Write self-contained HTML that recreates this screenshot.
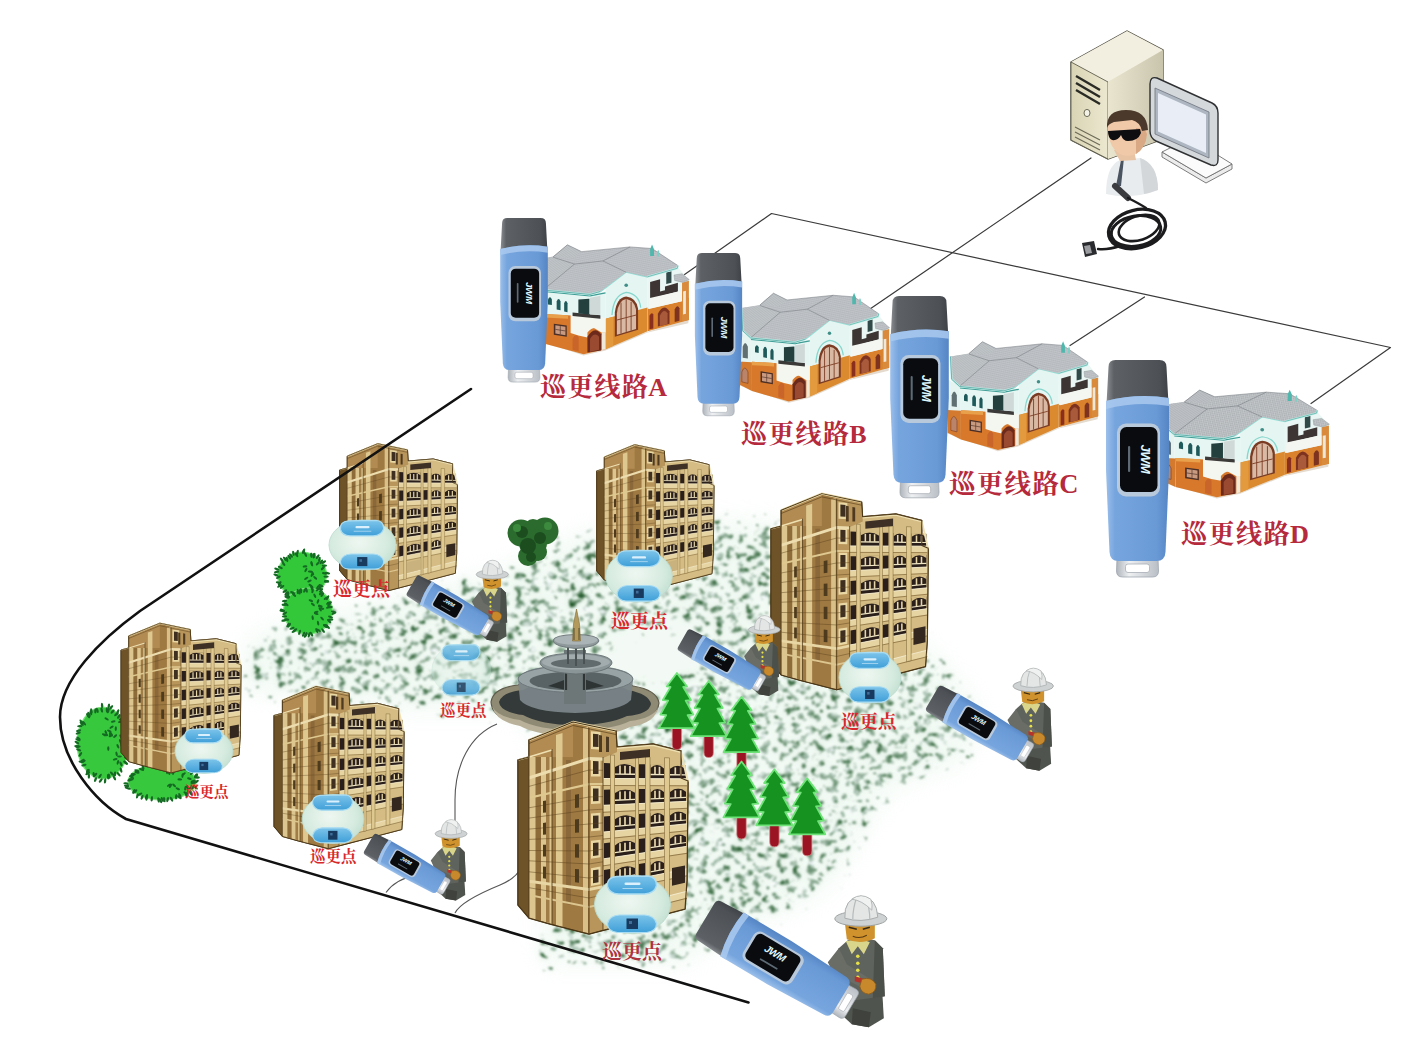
<!DOCTYPE html>
<html lang="zh"><head><meta charset="utf-8"><title>巡更线路</title>
<style>
html,body{margin:0;padding:0;background:#fff;}
body{width:1426px;height:1056px;overflow:hidden;font-family:"Liberation Serif","Noto Serif CJK SC",serif;}
svg{display:block}
.rl{letter-spacing:1.3px;font-family:"Liberation Serif","Noto Serif CJK SC",serif;font-weight:700;fill:#b52a3c;}
.pl{font-family:"Liberation Serif","Noto Serif CJK SC",serif;font-weight:700;fill:#d8282c;}
</style></head><body>
<svg width="1426" height="1056" viewBox="0 0 1426 1056">
<defs>
<linearGradient id="capg" x1="0" x2="1" y1="0" y2="0">
 <stop offset="0" stop-color="#8a8e92"/><stop offset="0.12" stop-color="#5d6165"/><stop offset="0.85" stop-color="#4d5155"/><stop offset="1" stop-color="#3f4347"/>
</linearGradient>
<linearGradient id="bodyg" x1="0" x2="1" y1="0" y2="0">
 <stop offset="0" stop-color="#9cc0ea"/><stop offset="0.14" stop-color="#76a5de"/><stop offset="0.8" stop-color="#6a9ad6"/><stop offset="1" stop-color="#5585c4"/>
</linearGradient>
<linearGradient id="clipg" x1="0" x2="1" y1="0" y2="0">
 <stop offset="0" stop-color="#aeb4bb"/><stop offset="0.3" stop-color="#eef0f2"/><stop offset="1" stop-color="#b9bfc6"/>
</linearGradient>
<g id="dev">
 <path d="M-20,186 L20,186 L21,211 Q21,217 15,217 L-15,217 Q-21,217 -21,211 Z" fill="url(#clipg)" stroke="#9fa6ae" stroke-width="0.8"/>
 <rect x="-12" y="204" width="24" height="8.5" rx="2.5" fill="#ffffff" stroke="#a8aeb5" stroke-width="0.8"/>
 <path d="M-29,7 Q-29,0 -22,0 L22,0 Q29,0 29,7 L31,44 L-31,44 Z" fill="url(#capg)"/>
 <path d="M-31.5,41 Q0,33 31.5,38 L31.5,110 L28,192 Q27.5,201 19,201 L-19,201 Q-27.5,201 -28,192 L-31.5,110 Z" fill="url(#bodyg)"/>
 <path d="M-31.5,41 Q0,33 31.5,38 L31.5,46 Q0,41 -31.5,49 Z" fill="#a9c9ef" opacity="0.85"/>
 <rect x="-20.5" y="63.5" width="43" height="73" rx="9" fill="#b9c9dc"/>
 <rect x="-17.5" y="67" width="37.5" height="65" rx="6.5" fill="#090b0e"/>
 <text transform="translate(3,99) rotate(90)" text-anchor="middle" font-family="'Liberation Sans',sans-serif" font-weight="700" font-style="italic" font-size="13" fill="#dff6ff" letter-spacing="-0.5">JWM</text>
 <rect x="-9.5" y="86" width="2.2" height="26" rx="1" fill="#5d6a75"/>
</g>

<pattern id="tile" width="14" height="14" patternUnits="userSpaceOnUse" patternTransform="rotate(-12) scale(2.2)">
 <rect width="14" height="14" fill="#c6cacd"/>
 <path d="M0,3 H14 M0,10 H14" stroke="#8f949a" stroke-width="2.4"/>
 <path d="M4,0 V14 M11,0 V14" stroke="#d3d6d9" stroke-width="1.6"/>
</pattern>
<pattern id="tile2" width="14" height="14" patternUnits="userSpaceOnUse" patternTransform="rotate(38) scale(2.2)">
 <rect width="14" height="14" fill="#cdd1d4"/>
 <path d="M0,3 H14 M0,10 H14" stroke="#969ba1" stroke-width="2.4"/>
</pattern>
<g id="villa" stroke-linejoin="round">
 <!-- soft ground shadow -->
 <polygon points="60,840 470,985 640,945 965,800 1280,725 1285,690 640,900 470,940 60,800" fill="#d9cbb8" opacity="0.7"/>
 <!-- right wing walls -->
 <polygon points="965,352 1200,275 1285,380 1285,700 965,790" fill="#e9f6f3"/>
 <polygon points="965,612 1230,548 1285,520 1285,700 965,790" fill="#d9812c"/>
 <polygon points="1232,400 1285,385 1285,700 1232,712" fill="#d98a3a"/>
 <polygon points="1240,470 1262,465 1262,650 1240,655" fill="#efe7d8"/>
 <polygon points="985,395 1062,372 1062,470 1100,460 1100,430 1200,400 1200,470 985,530" fill="#3c3533"/>
 <polygon points="1110,318 1150,308 1150,400 1110,410" fill="#2f4a49"/>
 <polygon points="975,525 1230,465 1230,548 975,612" fill="#f3f6f1"/>
 <path d="M980,775 V665 Q995,630 1010,655 V768 Z" fill="#8a2f1e"/>
 <path d="M1045,752 V650 Q1090,560 1135,630 V730 Z" fill="#7d3320"/>
 <path d="M1060,748 V665 Q1090,600 1120,645 V734 Z" fill="#a85a3a"/>
 <path d="M1175,715 V615 Q1195,570 1212,605 V706 Z" fill="#7d3320"/>
 <!-- small lean-to roof right -->
 <polygon points="1170,338 1232,328 1288,375 1240,398 1175,382" fill="url(#tile)" stroke="#7f8b8c" stroke-width="3"/>
 <!-- gable wall -->
 <polygon points="640,440 800,312 965,352 965,790 640,935" fill="#e4f5f2"/>
 <polygon points="640,690 965,600 965,790 640,935" fill="#dc8a30"/>
 <polygon points="640,690 700,674 700,908 640,935" fill="#e39a3e"/>
 <path d="M600,472 L800,314 L968,354" fill="none" stroke="#8fe0d6" stroke-width="12"/>
 <path d="M690,660 Q700,500 800,478 Q900,490 912,600" fill="none" stroke="#86d6cc" stroke-width="10"/>
 <path d="M712,835 V640 Q725,520 800,510 Q880,520 892,610 V778 Z" fill="#7a3b22"/>
 <path d="M728,818 V645 Q740,540 800,530 Q865,540 876,615 V772 Z" fill="#d9b9a4"/>
 <path d="M760,808 V560 M800,796 V532 M838,785 V555 M728,700 L876,660" stroke="#7a3b22" stroke-width="7" fill="none"/>
 <circle cx="800" cy="420" r="14" fill="#3f8f88"/>
 <!-- left-front walls -->
 <polygon points="160,457 520,492 640,470 640,935 470,975 170,890" fill="#e6f6f3"/>
 <polygon points="170,652 380,664 640,692 640,935 470,975 170,890" fill="#d8782a"/>
 <polygon points="170,652 350,662 350,690 170,680" fill="#e9a04a"/>
 <polygon points="370,655 640,684 640,800 610,800 Q560,730 500,800 L500,840 430,825 370,805" fill="#f4f6f0"/>
 <path d="M370,655 L640,684 L640,800 L612,800 Q560,728 500,800 L500,840 L430,825 L370,805 Z" fill="#f4f6f0"/>
 <path d="M440,690 L470,730 L500,695" fill="#f4f6f0"/>
 <polygon points="385,640 600,662 600,690 385,668" fill="#3b3a38"/>
 <path d="M500,962 V835 Q555,740 606,815 V945 Z" fill="#6b2a1c"/>
 <path d="M520,955 V850 Q555,790 590,835 V940 Z" fill="#9a4a30"/>
 <polygon points="612,800 640,800 640,935 612,942" fill="#f0e8d8"/>
 <path d="M385,940 V850 Q410,800 432,840 V952 Z" fill="#c9652a"/>
 <polygon points="240,730 340,745 340,835 240,818" fill="#4b2e25"/>
 <polygon points="252,742 330,754 330,822 252,808" fill="#c99a80"/>
 <path d="M290,748 V815 M252,775 L330,788" stroke="#4b2e25" stroke-width="5"/>
 <path d="M195,575 V535 Q210,500 225,535 V580 Z" fill="#1f5a5a"/>
 <path d="M262,615 V550 Q277,510 292,550 V622 Z" fill="#1f5a5a"/>
 <path d="M320,632 V565 Q333,528 346,565 V638 Z" fill="#1f5a5a"/>
 <polygon points="430,535 515,528 515,655 430,648" fill="#23403f"/>
 <polygon points="520,520 600,505 600,660 520,655" fill="#cfd9d8"/>
 <path d="M160,470 L520,505 L640,482" fill="none" stroke="#3f9d95" stroke-width="10"/>
 <!-- left turret -->
 <polygon points="62,400 160,457 170,890 62,835" fill="#e6f4f1"/>
 <polygon points="62,650 170,656 170,890 62,835" fill="#d47a2e"/>
 <path d="M95,620 V530 Q115,470 137,530 V625 Z" fill="#5f6f72"/>
 <path d="M88,815 V735 Q112,670 138,735 V828 Z" fill="#b9846a"/>
 <path d="M88,815 V735 Q112,670 138,735 V828 Z" fill="none" stroke="#8a4a2a" stroke-width="6"/>
 <!-- roofs -->
 <polygon points="85,215 235,190 345,95 455,150 830,112 1000,125 1200,262 1195,284 965,352 800,316 600,470 520,494 160,459 95,400" fill="url(#tile)"/>
 <polygon points="85,215 235,195 400,250 160,459 95,400" fill="url(#tile2)" opacity="0.9"/>
 <polygon points="230,192 345,95 455,150 400,200" fill="url(#tile2)"/>
 <path d="M235,192 L345,95 L455,150 M235,195 L400,250 L160,457 M400,250 L620,225 L830,112 M620,225 L800,316 M455,150 L830,112 L1000,125 L1200,262" fill="none" stroke="#6f747a" stroke-width="4"/>
 <path d="M85,215 L95,400 L160,459 L520,494 L600,470" fill="none" stroke="#bff0ea" stroke-width="16"/><path d="M85,215 L95,400 L160,459 L520,494 L600,470" fill="none" stroke="#4f9f99" stroke-width="6"/>
 <path d="M965,352 L1195,284 L1200,262" fill="none" stroke="#bff0ea" stroke-width="16"/><path d="M965,352 L1195,284 L1200,262" fill="none" stroke="#5fb0a8" stroke-width="6"/>
 <!-- finial -->
 <path d="M985,185 V130 L1000,92 L1015,130 V185 Z" fill="#4fb7ac"/>
 <path d="M1040,190 V150 L1048,135 L1056,150 V190 Z" fill="#7fcfc6"/>
</g>
<g id="bld" transform="translate(-518,-721)" stroke-linejoin="round">
<polygon points="518.0,760.0 529.0,757.0 529.0,740.0 573.0,722.0 616.0,731.0 617.0,747.0 653.0,744.0 681.0,751.0 681.0,778.0 688.0,781.0 687.0,880.0 685.0,909.0 589.0,934.0 550.0,924.0 529.0,918.0 518.0,905.0" fill="#a8824a" stroke="#4a3616" stroke-width="1.4"/>
<polygon points="518.0,760.0 529.0,757.0 529.0,918.0 518.0,905.0" fill="#6e5228"/>
<polygon points="529.0,757.0 552.0,749.0 552.0,924.0 529.0,918.0" fill="#dcc58e"/>
<polygon points="535.5,755.0 541.0,753.0 541.0,921.0 535.5,919.5" fill="#8e6c3a"/>
<polygon points="546.0,751.0 549.5,750.0 549.5,923.0 546.0,922.0" fill="#a07c46"/>
<polygon points="552.0,731.0 573.0,722.0 589.0,727.0 589.0,934.0 552.0,924.0" fill="#9f7942"/>
<polygon points="529.0,740.0 573.0,722.0 573.0,757.0 529.0,757.0" fill="#b18b52"/>
<polygon points="556.0,735.0 562.5,733.0 562.5,927.0 556.0,925.5" fill="#dfc890"/>
<polygon points="566.0,760.0 571.0,760.0 571.0,905.0 566.0,904.0" fill="#8a683a"/>
<polygon points="583.0,728.0 588.0,727.0 588.0,933.0 583.0,932.0" fill="#d8c088"/>
<polygon points="573.0,722.0 616.0,731.0 617.0,752.0 606.0,757.0 606.0,929.1 589.0,934.0 589.0,727.0" fill="#b8955a"/>
<polygon points="591.0,758.6 600.5,759.0 600.5,776.6 591.0,776.5" fill="#ead8a4"/>
<polygon points="593.0,761.1 598.5,761.3 598.5,774.1 593.0,774.0" fill="#3e2f20"/>
<polygon points="591.0,786.0 600.5,785.9 600.5,803.5 591.0,803.9" fill="#ead8a4"/>
<polygon points="593.0,788.4 598.5,788.4 598.5,801.1 593.0,801.3" fill="#3e2f20"/>
<polygon points="591.0,813.4 600.5,812.8 600.5,830.4 591.0,831.3" fill="#ead8a4"/>
<polygon points="593.0,815.7 598.5,815.4 598.5,828.1 593.0,828.6" fill="#3e2f20"/>
<polygon points="591.0,840.8 600.5,839.7 600.5,857.3 591.0,858.7" fill="#ead8a4"/>
<polygon points="593.0,843.0 598.5,842.4 598.5,855.2 593.0,855.9" fill="#3e2f20"/>
<polygon points="591.0,868.2 600.5,866.6 600.5,884.2 591.0,886.1" fill="#ead8a4"/>
<polygon points="593.0,870.3 598.5,869.4 598.5,882.2 593.0,883.2" fill="#3e2f20"/>
<polygon points="591.0,731.2 600.5,732.1 600.5,749.7 591.0,749.1" fill="#ead8a4"/>
<polygon points="593.0,733.8 598.5,734.3 598.5,747.1 593.0,746.8" fill="#3e2f20"/>
<polygon points="603.0,758.0 617.0,752.0 617.0,747.0 653.0,744.0 681.0,751.0 681.0,778.0 688.0,781.0 687.0,880.0 685.0,909.0 603.0,930.0" fill="#d4bc84"/>
<polygon points="604.0,763.0 610.0,763.2 610.0,778.6 604.0,778.5" fill="#2a1f1a"/>
<polygon points="615.0,763.4 635.0,764.0 635.0,778.6 615.0,778.6" fill="#2a1f1a"/>
<line x1="620.0" y1="765.5" x2="620.0" y2="773.9" stroke="#e6d6a8" stroke-width="1.7"/>
<line x1="625.0" y1="765.7" x2="625.0" y2="774.0" stroke="#e6d6a8" stroke-width="1.7"/>
<line x1="630.0" y1="765.9" x2="630.0" y2="774.0" stroke="#e6d6a8" stroke-width="1.7"/>
<polygon points="615.0,773.4 635.0,773.6 635.0,775.0 615.0,774.8" fill="#f0e6c4"/>
<path d="M615.0,766.9 Q625.0,760.7 635.0,767.5 L635.0,763.4 L615.0,762.8 Z" fill="#d4bc84"/>
<polygon points="639.0,764.2 645.0,764.3 645.0,778.7 639.0,778.7" fill="#2a1f1a"/>
<polygon points="650.5,764.5 664.0,765.0 664.0,778.7 650.5,778.7" fill="#2a1f1a"/>
<line x1="655.0" y1="766.7" x2="655.0" y2="774.3" stroke="#e6d6a8" stroke-width="1.7"/>
<line x1="659.5" y1="766.8" x2="659.5" y2="774.4" stroke="#e6d6a8" stroke-width="1.7"/>
<polygon points="650.5,773.8 664.0,774.0 664.0,775.3 650.5,775.2" fill="#f0e6c4"/>
<path d="M650.5,768.0 Q657.2,761.8 664.0,768.5 L664.0,764.4 L650.5,763.9 Z" fill="#d4bc84"/>
<polygon points="670.0,765.2 686.0,765.7 686.0,778.8 670.0,778.8" fill="#2a1f1a"/>
<line x1="675.3" y1="767.4" x2="675.3" y2="774.6" stroke="#e6d6a8" stroke-width="1.7"/>
<line x1="680.7" y1="767.5" x2="680.7" y2="774.7" stroke="#e6d6a8" stroke-width="1.7"/>
<polygon points="670.0,774.1 686.0,774.3 686.0,775.5 670.0,775.4" fill="#f0e6c4"/>
<path d="M670.0,768.7 Q678.0,762.4 686.0,769.2 L686.0,765.1 L670.0,764.6 Z" fill="#d4bc84"/>
<polygon points="604.0,789.7 610.0,789.6 610.0,805.0 604.0,805.3" fill="#2a1f1a"/>
<polygon points="615.0,789.5 635.0,789.2 635.0,803.8 615.0,804.8" fill="#2a1f1a"/>
<line x1="620.0" y1="791.4" x2="620.0" y2="799.8" stroke="#e6d6a8" stroke-width="1.7"/>
<line x1="625.0" y1="791.3" x2="625.0" y2="799.6" stroke="#e6d6a8" stroke-width="1.7"/>
<line x1="630.0" y1="791.3" x2="630.0" y2="799.4" stroke="#e6d6a8" stroke-width="1.7"/>
<polygon points="615.0,799.5 635.0,798.8 635.0,800.1 615.0,800.9" fill="#f0e6c4"/>
<path d="M615.0,793.0 Q625.0,786.3 635.0,792.7 L635.0,788.6 L615.0,788.9 Z" fill="#d4bc84"/>
<polygon points="639.0,789.1 645.0,789.0 645.0,803.3 639.0,803.6" fill="#2a1f1a"/>
<polygon points="650.5,788.9 664.0,788.6 664.0,802.4 650.5,803.1" fill="#2a1f1a"/>
<line x1="655.0" y1="790.8" x2="655.0" y2="798.5" stroke="#e6d6a8" stroke-width="1.7"/>
<line x1="659.5" y1="790.7" x2="659.5" y2="798.3" stroke="#e6d6a8" stroke-width="1.7"/>
<polygon points="650.5,798.2 664.0,797.7 664.0,799.0 650.5,799.5" fill="#f0e6c4"/>
<path d="M650.5,792.4 Q657.2,785.8 664.0,792.1 L664.0,788.0 L650.5,788.3 Z" fill="#d4bc84"/>
<polygon points="670.0,788.5 686.0,788.2 686.0,801.4 670.0,802.1" fill="#2a1f1a"/>
<line x1="675.3" y1="790.4" x2="675.3" y2="797.7" stroke="#e6d6a8" stroke-width="1.7"/>
<line x1="680.7" y1="790.3" x2="680.7" y2="797.5" stroke="#e6d6a8" stroke-width="1.7"/>
<polygon points="670.0,797.4 686.0,796.8 686.0,798.1 670.0,798.7" fill="#f0e6c4"/>
<path d="M670.0,792.0 Q678.0,785.4 686.0,791.7 L686.0,787.6 L670.0,787.9 Z" fill="#d4bc84"/>
<polygon points="604.0,816.5 610.0,816.0 610.0,831.4 604.0,832.0" fill="#2a1f1a"/>
<polygon points="615.0,815.7 635.0,814.3 635.0,828.9 615.0,830.9" fill="#2a1f1a"/>
<line x1="620.0" y1="817.4" x2="620.0" y2="825.7" stroke="#e6d6a8" stroke-width="1.7"/>
<line x1="625.0" y1="817.0" x2="625.0" y2="825.3" stroke="#e6d6a8" stroke-width="1.7"/>
<line x1="630.0" y1="816.7" x2="630.0" y2="824.8" stroke="#e6d6a8" stroke-width="1.7"/>
<polygon points="615.0,825.7 635.0,823.9 635.0,825.3 615.0,827.1" fill="#f0e6c4"/>
<path d="M615.0,819.2 Q625.0,812.0 635.0,817.8 L635.0,813.7 L615.0,815.1 Z" fill="#d4bc84"/>
<polygon points="639.0,814.0 645.0,813.6 645.0,828.0 639.0,828.5" fill="#2a1f1a"/>
<polygon points="650.5,813.2 664.0,812.3 664.0,826.1 650.5,827.4" fill="#2a1f1a"/>
<line x1="655.0" y1="814.9" x2="655.0" y2="822.6" stroke="#e6d6a8" stroke-width="1.7"/>
<line x1="659.5" y1="814.6" x2="659.5" y2="822.2" stroke="#e6d6a8" stroke-width="1.7"/>
<polygon points="650.5,822.5 664.0,821.3 664.0,822.6 650.5,823.9" fill="#f0e6c4"/>
<path d="M650.5,816.7 Q657.2,809.8 664.0,815.8 L664.0,811.7 L650.5,812.6 Z" fill="#d4bc84"/>
<polygon points="670.0,811.9 686.0,810.8 686.0,823.9 670.0,825.5" fill="#2a1f1a"/>
<line x1="675.3" y1="813.5" x2="675.3" y2="820.8" stroke="#e6d6a8" stroke-width="1.7"/>
<line x1="680.7" y1="813.1" x2="680.7" y2="820.3" stroke="#e6d6a8" stroke-width="1.7"/>
<polygon points="670.0,820.8 686.0,819.4 686.0,820.6 670.0,822.1" fill="#f0e6c4"/>
<path d="M670.0,815.4 Q678.0,808.3 686.0,814.3 L686.0,810.2 L670.0,811.3 Z" fill="#d4bc84"/>
<polygon points="604.0,843.2 610.0,842.5 610.0,857.8 604.0,858.7" fill="#2a1f1a"/>
<polygon points="615.0,841.9 635.0,839.5 635.0,854.1 615.0,857.1" fill="#2a1f1a"/>
<line x1="620.0" y1="843.3" x2="620.0" y2="851.6" stroke="#e6d6a8" stroke-width="1.7"/>
<line x1="625.0" y1="842.7" x2="625.0" y2="850.9" stroke="#e6d6a8" stroke-width="1.7"/>
<line x1="630.0" y1="842.1" x2="630.0" y2="850.2" stroke="#e6d6a8" stroke-width="1.7"/>
<polygon points="615.0,851.9 635.0,849.1 635.0,850.4 615.0,853.3" fill="#f0e6c4"/>
<path d="M615.0,845.4 Q625.0,837.7 635.0,843.0 L635.0,838.9 L615.0,841.3 Z" fill="#d4bc84"/>
<polygon points="639.0,839.0 645.0,838.3 645.0,852.6 639.0,853.5" fill="#2a1f1a"/>
<polygon points="650.5,837.6 664.0,836.0 664.0,849.7 650.5,851.8" fill="#2a1f1a"/>
<line x1="655.0" y1="839.0" x2="655.0" y2="846.7" stroke="#e6d6a8" stroke-width="1.7"/>
<line x1="659.5" y1="838.5" x2="659.5" y2="846.1" stroke="#e6d6a8" stroke-width="1.7"/>
<polygon points="650.5,846.9 664.0,845.0 664.0,846.3 650.5,848.2" fill="#f0e6c4"/>
<path d="M650.5,841.1 Q657.2,833.8 664.0,839.5 L664.0,835.4 L650.5,837.0 Z" fill="#d4bc84"/>
<polygon points="670.0,835.2 686.0,833.3 686.0,846.4 670.0,848.8" fill="#2a1f1a"/>
<line x1="675.3" y1="836.6" x2="675.3" y2="843.8" stroke="#e6d6a8" stroke-width="1.7"/>
<line x1="680.7" y1="836.0" x2="680.7" y2="843.1" stroke="#e6d6a8" stroke-width="1.7"/>
<polygon points="670.0,844.2 686.0,841.9 686.0,843.1 670.0,845.4" fill="#f0e6c4"/>
<path d="M670.0,838.7 Q678.0,831.3 686.0,836.8 L686.0,832.7 L670.0,834.6 Z" fill="#d4bc84"/>
<polygon points="604.0,869.9 610.0,868.9 610.0,884.3 604.0,885.5" fill="#2a1f1a"/>
<polygon points="615.0,868.0 635.0,864.6 635.0,879.2 615.0,883.3" fill="#2a1f1a"/>
<line x1="620.0" y1="869.2" x2="620.0" y2="877.5" stroke="#e6d6a8" stroke-width="1.7"/>
<line x1="625.0" y1="868.3" x2="625.0" y2="876.6" stroke="#e6d6a8" stroke-width="1.7"/>
<line x1="630.0" y1="867.5" x2="630.0" y2="875.6" stroke="#e6d6a8" stroke-width="1.7"/>
<polygon points="615.0,878.0 635.0,874.2 635.0,875.6 615.0,879.5" fill="#f0e6c4"/>
<path d="M615.0,871.5 Q625.0,863.3 635.0,868.1 L635.0,864.0 L615.0,867.4 Z" fill="#d4bc84"/>
<polygon points="639.0,863.9 645.0,862.9 645.0,877.2 639.0,878.4" fill="#2a1f1a"/>
<polygon points="650.5,861.9 664.0,859.6 664.0,873.4 650.5,876.1" fill="#2a1f1a"/>
<line x1="655.0" y1="863.2" x2="655.0" y2="870.8" stroke="#e6d6a8" stroke-width="1.7"/>
<line x1="659.5" y1="862.4" x2="659.5" y2="870.0" stroke="#e6d6a8" stroke-width="1.7"/>
<polygon points="650.5,871.2 664.0,868.7 664.0,870.0 650.5,872.6" fill="#f0e6c4"/>
<path d="M650.5,865.4 Q657.2,857.8 664.0,863.1 L664.0,859.0 L650.5,861.3 Z" fill="#d4bc84"/>
<polygon points="603.0,778.5 687.0,778.8 687.0,785.3 603.0,785.0" fill="#e6d4a2"/>
<line x1="603" y1="785.5" x2="687" y2="785.8" stroke="#7a5f30" stroke-width="0.7"/>
<line x1="603" y1="778.5" x2="687" y2="778.8" stroke="#f6eed4" stroke-width="0.9"/>
<polygon points="603.0,805.3 687.0,801.3 687.0,807.8 603.0,811.8" fill="#e6d4a2"/>
<line x1="603" y1="812.3" x2="687" y2="808.3" stroke="#7a5f30" stroke-width="0.7"/>
<line x1="603" y1="805.3" x2="687" y2="801.3" stroke="#f6eed4" stroke-width="0.9"/>
<polygon points="603.0,832.1 687.0,823.8 687.0,830.3 603.0,838.6" fill="#e6d4a2"/>
<line x1="603" y1="839.1" x2="687" y2="830.8" stroke="#7a5f30" stroke-width="0.7"/>
<line x1="603" y1="832.1" x2="687" y2="823.8" stroke="#f6eed4" stroke-width="0.9"/>
<polygon points="603.0,858.9 687.0,846.3 687.0,852.8 603.0,865.4" fill="#e6d4a2"/>
<line x1="603" y1="865.9" x2="687" y2="853.3" stroke="#7a5f30" stroke-width="0.7"/>
<line x1="603" y1="858.9" x2="687" y2="846.3" stroke="#f6eed4" stroke-width="0.9"/>
<polygon points="603.0,885.7 687.0,868.8 687.0,875.3 603.0,892.2" fill="#e6d4a2"/>
<line x1="603" y1="892.7" x2="687" y2="875.8" stroke="#7a5f30" stroke-width="0.7"/>
<line x1="603" y1="885.7" x2="687" y2="868.8" stroke="#f6eed4" stroke-width="0.9"/>
<polygon points="603.0,912.5 687.0,891.2 687.0,897.7 603.0,919.0" fill="#e6d4a2"/>
<line x1="603" y1="919.5" x2="687" y2="898.2" stroke="#7a5f30" stroke-width="0.7"/>
<line x1="603" y1="912.5" x2="687" y2="891.2" stroke="#f6eed4" stroke-width="0.9"/>
<polygon points="610.5,755.0 614.5,755.2 614.5,917.2 610.5,918.2" fill="#dfc990" stroke="#6e5428" stroke-width="0.5"/>
<polygon points="635.5,756.3 638.5,756.4 638.5,910.8 635.5,911.6" fill="#dfc990" stroke="#6e5428" stroke-width="0.5"/>
<polygon points="645.5,756.8 650.0,757.0 650.0,907.7 645.5,908.9" fill="#dfc990" stroke="#6e5428" stroke-width="0.5"/>
<polygon points="664.5,757.7 669.5,757.9 669.5,902.5 664.5,903.8" fill="#dfc990" stroke="#6e5428" stroke-width="0.5"/>
<polygon points="615.0,893.3 635.0,888.8 635.0,903.5 615.0,908.5" fill="#c9b27e"/>
<polygon points="672.0,868.0 685.0,865.5 685.0,882.7 672.0,885.7" fill="#33271e"/>
<polygon points="603.0,757.6 589.0,757.0 529.0,776.2 529.0,779.4 589.0,760.2 603.0,760.8" fill="#ecdcae"/>
<polygon points="603.0,782.9 589.0,783.0 529.0,796.7 529.0,798.9 589.0,785.2 603.0,785.1" fill="#dfc990"/>
<polygon points="603.0,885.2 589.0,888.0 529.0,879.8 529.0,882.8 589.0,891.0 603.0,888.2" fill="#e8d6a4"/>
<polygon points="603.0,902.7 589.0,906.0 529.0,894.0 529.0,896.0 589.0,908.0 603.0,904.7" fill="#dcc58e"/>
<polyline points="529,786.4 589,770 603,770.3" fill="none" stroke="#5a421c" stroke-width="0.6" opacity="0.8"/>
<polyline points="529,807.8 589,797 603,796.6" fill="none" stroke="#5a421c" stroke-width="0.6" opacity="0.8"/>
<polyline points="529,818.1 589,810 603,809.2" fill="none" stroke="#5a421c" stroke-width="0.6" opacity="0.8"/>
<polyline points="529,829.1 589,824 603,822.9" fill="none" stroke="#5a421c" stroke-width="0.6" opacity="0.8"/>
<polyline points="529,839.4 589,837 603,835.5" fill="none" stroke="#5a421c" stroke-width="0.6" opacity="0.8"/>
<polyline points="529,850.5 589,851 603,849.2" fill="none" stroke="#5a421c" stroke-width="0.6" opacity="0.8"/>
<polyline points="529,860.8 589,864 603,861.8" fill="none" stroke="#5a421c" stroke-width="0.6" opacity="0.8"/>
<polyline points="529,871.8 589,878 603,875.5" fill="none" stroke="#5a421c" stroke-width="0.6" opacity="0.8"/>
<polyline points="529,887.7 589,898 603,894.9" fill="none" stroke="#5a421c" stroke-width="0.6" opacity="0.8"/>
<polygon points="543.0,801.1 546.0,800.5 546.0,812.4 543.0,812.8" fill="#4e3a1c"/>
<polygon points="575.0,794.8 579.0,794.0 579.0,807.5 575.0,808.1" fill="#4e3a1c"/>
<polygon points="543.0,822.9 546.0,822.6 546.0,834.5 543.0,834.7" fill="#4e3a1c"/>
<polygon points="575.0,819.5 579.0,819.1 579.0,832.6 575.0,832.8" fill="#4e3a1c"/>
<polygon points="543.0,844.7 546.0,844.7 546.0,856.6 543.0,856.5" fill="#4e3a1c"/>
<polygon points="575.0,844.2 579.0,844.2 579.0,857.7 575.0,857.5" fill="#4e3a1c"/>
<polygon points="543.0,866.6 546.0,866.8 546.0,878.7 543.0,878.3" fill="#4e3a1c"/>
<polygon points="575.0,869.0 579.0,869.3 579.0,882.8 575.0,882.3" fill="#4e3a1c"/>
<polyline points="529,740 573,722 616,731" fill="none" stroke="#efe0b2" stroke-width="2.4"/>
<polyline points="529,743.5 573,725.5 616,734.5" fill="none" stroke="#5a421c" stroke-width="0.7"/>
<polyline points="617,748 653,745 681,752 688,782" fill="none" stroke="#efe0b2" stroke-width="2"/>
<polyline points="518,760 529,757 552,750" fill="none" stroke="#efe0b2" stroke-width="1.6"/>
<polygon points="620.0,752.0 650.0,749.0 650.0,757.0 620.0,760.0" fill="#3e3024"/>
<polygon points="599.0,735.0 602.0,735.6 602.0,752.0 599.0,752.0" fill="#4e3a20"/>
<polygon points="606.0,736.4 609.0,737.0 609.0,752.0 606.0,752.0" fill="#4e3a20"/>
<line x1="589" y1="728" x2="589" y2="934" stroke="#4a3616" stroke-width="0.9"/>
<line x1="603" y1="757" x2="603" y2="930" stroke="#4a3616" stroke-width="0.8"/>
<line x1="552" y1="749" x2="552" y2="924" stroke="#4a3616" stroke-width="0.8"/>
<line x1="529" y1="757" x2="529" y2="918" stroke="#4a3616" stroke-width="0.8"/>
<polygon points="518.0,760.0 529.0,757.0 529.0,740.0 573.0,722.0 616.0,731.0 617.0,747.0 653.0,744.0 681.0,751.0 681.0,778.0 688.0,781.0 687.0,880.0 685.0,909.0 589.0,934.0 550.0,924.0 529.0,918.0 518.0,905.0" fill="none" stroke="#4a3616" stroke-width="1.1"/>
</g>
<radialGradient id="cpg" cx="0.45" cy="0.45" r="0.6">
 <stop offset="0" stop-color="#eef7f1"/><stop offset="0.7" stop-color="#d6ebe0"/><stop offset="1" stop-color="#c2dfd2"/>
</radialGradient>
<linearGradient id="cpb" x1="0" x2="0" y1="0" y2="1">
 <stop offset="0" stop-color="#7cc4ea"/><stop offset="1" stop-color="#3f9fd8"/>
</linearGradient>
<g id="cpbody"><ellipse cx="0" cy="0" rx="38" ry="29" fill="url(#cpg)" stroke="#bcdccf" stroke-width="1"/></g>
<g id="cpcaps">
 <path d="M-25,-18 Q-26,-27 -16,-28 L15,-28.5 Q24,-28 24,-19 Q22,-11 12,-10.5 L-14,-10.5 Q-23,-11 -25,-18 Z" fill="url(#cpb)" stroke="#a9dcf2" stroke-width="1.4"/>
 <path d="M-25,19 Q-23,11 -13,10.5 L12,10.5 Q22,11 24,19 Q24,27 14,28 L-15,28 Q-25,27 -25,19 Z" fill="url(#cpb)" stroke="#a9dcf2" stroke-width="1.2"/>
 <rect x="-6" y="14" width="11.5" height="10.5" fill="#173a5e"/>
 <rect x="-3.5" y="16.5" width="3" height="3" fill="#3f6f9a"/>
 <rect x="-8" y="-22" width="16" height="2.6" rx="1.3" fill="#e8f6ff" opacity="0.9"/><rect x="-10" y="-16.5" width="20" height="1" fill="#cfeaf8" opacity="0.7"/>
</g>

<g id="guard" stroke-linejoin="round">
 <!-- legs / coat bottom -->
 <path d="M-14,76 L20,70 L23,122 L8,131 L-9,128 L-22,116 Z" fill="#50544e"/>
 <path d="M-9,128 L-8,112 L10,116 L8,131 Z" fill="#3f423d"/>
 <!-- torso -->
 <path d="M-13,44 Q0,40 14,44 L22,52 L24,100 L-6,104 L-24,92 L-30,70 L-22,52 Z" fill="#5f635d"/>
 <path d="M14,44 L22,52 L24,100 L12,102 Z" fill="#4c504a"/>
 <!-- arm -->
 <path d="M-22,52 L-33,66 L-28,76 L2,92 L8,82 L-14,68 Z" fill="#696d66"/>
 <!-- collar + buttons -->
 <path d="M-15,45 L-9,58 L-3,50 L3,58 L9,46 L4,44 L-10,44 Z" fill="#d9d58a"/>
 <circle cx="-3" cy="60" r="1.8" fill="#e6e04a"/><circle cx="-3" cy="67" r="1.8" fill="#e6e04a"/><circle cx="-3" cy="74" r="1.8" fill="#e6e04a"/><circle cx="-3" cy="81" r="1.8" fill="#e6e04a"/>
 <!-- belt red -->
 <path d="M-6,80 L8,84 L8,89 L-6,85 Z" fill="#b5332a"/>
 <!-- head -->
 <path d="M-16,26 L14,26 L14,42 Q0,49 -14,43 Z" fill="#cf922c"/>
 <path d="M-12,31 L-4,33 M2,33 L9,31" stroke="#3a2a14" stroke-width="1.6" fill="none"/>
 <path d="M-8,40 Q-1,43 6,39" stroke="#5a3a14" stroke-width="1.2" fill="none"/>
 <!-- hat -->
 <ellipse cx="0" cy="22.5" rx="26" ry="7.5" fill="#cfd2d2" stroke="#9da1a1" stroke-width="1"/>
 <path d="M-16,22 Q-17,2 0,0 Q16,1 17,21 Q0,27 -16,22 Z" fill="#e4e6e6" stroke="#a9adad" stroke-width="1"/>
 <path d="M-4,1 Q-8,12 -8,23 M5,1 Q9,12 9,23" stroke="#b7bbbb" stroke-width="1.2" fill="none"/>
 <path d="M-9,3 Q0,-4 10,3 Q12,9 11,14 Q1,4 -9,3 Z" fill="#f0f1f1" stroke="#a9adad" stroke-width="0.8"/>
</g>
<g id="ghand">
 <path d="M-6,-6 Q4,-9 8,-1 Q9,7 1,9 Q-7,8 -8,1 Z" fill="#c8882c" stroke="#8a5a1a" stroke-width="0.8"/>
</g>

<g id="pine">
 <path d="M-4.8,50 H4.8 V74 Q4.8,79 0,79 Q-4.8,79 -4.8,74 Z" fill="#9a1424" stroke="#d98a8a" stroke-width="0.7"/>
 <path d="M0,0 L10.5,14 L6.5,14.5 L14.5,28 L9,28.5 L17,43 L11,43.5 L18.5,57 L-18.5,57 L-11,43.5 L-17,43 L-9,28.5 L-14.5,28 L-6.5,14.5 L-10.5,14 Z" fill="#15921f" stroke="#6fe378" stroke-width="1.8" stroke-linejoin="round"/>
</g>
<filter id="soft" x="-10%" y="-10%" width="120%" height="120%"><feGaussianBlur stdDeviation="13"/></filter>
<filter id="speck" x="0" y="0" width="1426" height="1056" filterUnits="userSpaceOnUse" color-interpolation-filters="sRGB">
 <feGaussianBlur in="SourceAlpha" stdDeviation="11" result="m"/>
 <feTurbulence type="fractalNoise" baseFrequency="0.13 0.15" numOctaves="2" seed="11" result="n"/>
 <feColorMatrix in="n" type="matrix" values="0 0 0 0 0  0 0 0 0 0  0 0 0 0 0  1 0 0 0 0" result="na"/>
 <feComposite in="na" in2="m" operator="arithmetic" k1="0" k2="12" k3="3.6" k4="-9.9" result="d"/>
 <feColorMatrix in="n" type="matrix" values="0 1.3 0 0 -0.11  0 1.0 0 0 0.16  0 1.3 0 0 -0.08  0 0 0 0 1" result="c"/>
 <feComposite in="c" in2="d" operator="in" result="cd"/>
 <feGaussianBlur in="cd" stdDeviation="3" result="h0"/>
 <feColorMatrix in="h0" type="matrix" values="1 0 0 0 0.25  0 1 0 0 0.25  0 0 1 0 0.25  0 0 0 0.45 0" result="halo"/>
 <feGaussianBlur in="cd" stdDeviation="1.2" result="dots"/>
 <feMerge result="mg"><feMergeNode in="halo"/><feMergeNode in="dots"/></feMerge>
 <feComponentTransfer in="m" result="m2"><feFuncA type="linear" slope="7" intercept="-0.5"/></feComponentTransfer>
 <feComposite in="mg" in2="m2" operator="in"/>
</filter>
</defs>
<rect width="1426" height="1056" fill="#fff"/>
<polygon points="232,690 250,634 322,612 407,593 500,570 555,543 600,527 700,518 790,522 790,650 925,640 945,665 975,700 985,730 960,765 890,790 866,830 845,868 815,900 750,927 705,948 690,965 540,965 536,735 512,712 407,712" fill="#dff3e4" filter="url(#soft)" opacity="0.35"/>
<g filter="url(#speck)"><path d="M232,690 L250,634 L322,612 L407,593 L500,570 L555,543 L600,527 L700,518 L790,522 L790,650 L925,640 L945,665 L975,700 L985,730 L960,765 L890,790 L866,830 L845,868 L815,900 L750,927 L705,948 L690,965 L540,965 L536,735 L512,712 L407,712 Z M606,636 L650,628 L694,630 L704,662 L655,684 L610,678 Z" fill="#000" fill-rule="evenodd"/></g>

<g fill="none" stroke="#3a3a3a" stroke-width="1.2" stroke-linecap="round" stroke-linejoin="round">
 <polyline points="681,277 771.5,213.5 1390.5,347.5 1311,403.5"/>
 <line x1="1144.5" y1="297" x2="1070" y2="345.5"/>
 <line x1="1091" y1="158" x2="870" y2="309"/>
</g>

<g fill="none" stroke="#555" stroke-width="1.1">
 <path d="M497,724 C470,735 455,765 455,800 L455,822"/>
 <path d="M386,892.5 C392,884 402,878 416,875"/>
 <path d="M455,913 C460,903 478,894 500,885 C512,880 518,874 521,868"/>
</g>
<ellipse cx="302" cy="575" rx="24.5" ry="23" fill="#33c83a" stroke="#7fe07f" stroke-width="1.2"/><ellipse cx="327.5" cy="573.2" rx="2.7" ry="1.2" transform="rotate(14 327.5 573.2)" fill="#146a22"/><ellipse cx="326.1" cy="576.6" rx="2.7" ry="1.2" transform="rotate(1 326.1 576.6)" fill="#146a22"/><ellipse cx="326.4" cy="581.4" rx="2.7" ry="1.2" transform="rotate(-13 326.4 581.4)" fill="#146a22"/><ellipse cx="326.6" cy="581.4" rx="2.7" ry="1.2" transform="rotate(11 326.6 581.4)" fill="#146a22"/><ellipse cx="321.0" cy="585.6" rx="2.7" ry="1.2" transform="rotate(27 321.0 585.6)" fill="#146a22"/><ellipse cx="320.3" cy="588.0" rx="2.7" ry="1.2" transform="rotate(68 320.3 588.0)" fill="#146a22"/><ellipse cx="317.4" cy="590.0" rx="2.7" ry="1.2" transform="rotate(13 317.4 590.0)" fill="#146a22"/><ellipse cx="319.1" cy="593.4" rx="2.7" ry="1.2" transform="rotate(41 319.1 593.4)" fill="#146a22"/><ellipse cx="316.6" cy="592.6" rx="2.7" ry="1.2" transform="rotate(19 316.6 592.6)" fill="#146a22"/><ellipse cx="314.3" cy="594.2" rx="2.7" ry="1.2" transform="rotate(59 314.3 594.2)" fill="#146a22"/><ellipse cx="311.3" cy="594.8" rx="2.7" ry="1.2" transform="rotate(46 311.3 594.8)" fill="#146a22"/><ellipse cx="307.7" cy="596.2" rx="2.7" ry="1.2" transform="rotate(42 307.7 596.2)" fill="#146a22"/><ellipse cx="303.3" cy="597.8" rx="2.7" ry="1.2" transform="rotate(97 303.3 597.8)" fill="#146a22"/><ellipse cx="303.6" cy="599.5" rx="2.7" ry="1.2" transform="rotate(112 303.6 599.5)" fill="#146a22"/><ellipse cx="300.9" cy="597.0" rx="2.7" ry="1.2" transform="rotate(108 300.9 597.0)" fill="#146a22"/><ellipse cx="294.7" cy="598.4" rx="2.7" ry="1.2" transform="rotate(101 294.7 598.4)" fill="#146a22"/><ellipse cx="291.7" cy="596.2" rx="2.7" ry="1.2" transform="rotate(101 291.7 596.2)" fill="#146a22"/><ellipse cx="289.6" cy="596.2" rx="2.7" ry="1.2" transform="rotate(143 289.6 596.2)" fill="#146a22"/><ellipse cx="288.1" cy="593.9" rx="2.7" ry="1.2" transform="rotate(92 288.1 593.9)" fill="#146a22"/><ellipse cx="286.2" cy="593.6" rx="2.7" ry="1.2" transform="rotate(123 286.2 593.6)" fill="#146a22"/><ellipse cx="284.9" cy="591.2" rx="2.7" ry="1.2" transform="rotate(149 284.9 591.2)" fill="#146a22"/><ellipse cx="282.1" cy="586.9" rx="2.7" ry="1.2" transform="rotate(143 282.1 586.9)" fill="#146a22"/><ellipse cx="279.6" cy="586.0" rx="2.7" ry="1.2" transform="rotate(154 279.6 586.0)" fill="#146a22"/><ellipse cx="279.7" cy="583.5" rx="2.7" ry="1.2" transform="rotate(125 279.7 583.5)" fill="#146a22"/><ellipse cx="278.4" cy="582.7" rx="2.7" ry="1.2" transform="rotate(195 278.4 582.7)" fill="#146a22"/><ellipse cx="278.4" cy="577.3" rx="2.7" ry="1.2" transform="rotate(151 278.4 577.3)" fill="#146a22"/><ellipse cx="275.9" cy="575.0" rx="2.7" ry="1.2" transform="rotate(199 275.9 575.0)" fill="#146a22"/><ellipse cx="276.6" cy="571.9" rx="2.7" ry="1.2" transform="rotate(169 276.6 571.9)" fill="#146a22"/><ellipse cx="276.8" cy="569.1" rx="2.7" ry="1.2" transform="rotate(199 276.8 569.1)" fill="#146a22"/><ellipse cx="280.3" cy="567.5" rx="2.7" ry="1.2" transform="rotate(204 280.3 567.5)" fill="#146a22"/><ellipse cx="283.5" cy="563.7" rx="2.7" ry="1.2" transform="rotate(233 283.5 563.7)" fill="#146a22"/><ellipse cx="281.8" cy="560.0" rx="2.7" ry="1.2" transform="rotate(235 281.8 560.0)" fill="#146a22"/><ellipse cx="284.9" cy="558.9" rx="2.7" ry="1.2" transform="rotate(229 284.9 558.9)" fill="#146a22"/><ellipse cx="287.0" cy="559.5" rx="2.7" ry="1.2" transform="rotate(254 287.0 559.5)" fill="#146a22"/><ellipse cx="289.3" cy="557.2" rx="2.7" ry="1.2" transform="rotate(237 289.3 557.2)" fill="#146a22"/><ellipse cx="291.0" cy="555.5" rx="2.7" ry="1.2" transform="rotate(231 291.0 555.5)" fill="#146a22"/><ellipse cx="293.4" cy="553.3" rx="2.7" ry="1.2" transform="rotate(258 293.4 553.3)" fill="#146a22"/><ellipse cx="296.5" cy="554.8" rx="2.7" ry="1.2" transform="rotate(237 296.5 554.8)" fill="#146a22"/><ellipse cx="297.5" cy="552.4" rx="2.7" ry="1.2" transform="rotate(285 297.5 552.4)" fill="#146a22"/><ellipse cx="303.5" cy="551.2" rx="2.7" ry="1.2" transform="rotate(296 303.5 551.2)" fill="#146a22"/><ellipse cx="303.8" cy="551.1" rx="2.7" ry="1.2" transform="rotate(286 303.8 551.1)" fill="#146a22"/><ellipse cx="305.5" cy="554.5" rx="2.7" ry="1.2" transform="rotate(245 305.5 554.5)" fill="#146a22"/><ellipse cx="311.3" cy="555.2" rx="2.7" ry="1.2" transform="rotate(266 311.3 555.2)" fill="#146a22"/><ellipse cx="313.4" cy="555.7" rx="2.7" ry="1.2" transform="rotate(269 313.4 555.7)" fill="#146a22"/><ellipse cx="314.4" cy="555.4" rx="2.7" ry="1.2" transform="rotate(277 314.4 555.4)" fill="#146a22"/><ellipse cx="317.7" cy="556.7" rx="2.7" ry="1.2" transform="rotate(306 317.7 556.7)" fill="#146a22"/><ellipse cx="319.4" cy="559.5" rx="2.7" ry="1.2" transform="rotate(283 319.4 559.5)" fill="#146a22"/><ellipse cx="321.3" cy="561.9" rx="2.7" ry="1.2" transform="rotate(302 321.3 561.9)" fill="#146a22"/><ellipse cx="323.8" cy="562.1" rx="2.7" ry="1.2" transform="rotate(329 323.8 562.1)" fill="#146a22"/><ellipse cx="324.4" cy="565.6" rx="2.7" ry="1.2" transform="rotate(358 324.4 565.6)" fill="#146a22"/><ellipse cx="322.9" cy="568.1" rx="2.7" ry="1.2" transform="rotate(316 322.9 568.1)" fill="#146a22"/><ellipse cx="324.6" cy="573.4" rx="2.7" ry="1.2" transform="rotate(370 324.6 573.4)" fill="#146a22"/><ellipse cx="315.2" cy="577.9" rx="2.4" ry="1.1" transform="rotate(40 315.2 577.9)" fill="#146a22"/><ellipse cx="312.4" cy="588.4" rx="2.4" ry="1.1" transform="rotate(93 312.4 588.4)" fill="#146a22"/><ellipse cx="311.9" cy="564.1" rx="2.4" ry="1.1" transform="rotate(71 311.9 564.1)" fill="#146a22"/><ellipse cx="312.0" cy="574.8" rx="2.4" ry="1.1" transform="rotate(114 312.0 574.8)" fill="#146a22"/><ellipse cx="305.0" cy="566.4" rx="2.4" ry="1.1" transform="rotate(174 305.0 566.4)" fill="#146a22"/><ellipse cx="309.5" cy="580.9" rx="2.4" ry="1.1" transform="rotate(155 309.5 580.9)" fill="#146a22"/><ellipse cx="317.7" cy="563.6" rx="2.4" ry="1.1" transform="rotate(134 317.7 563.6)" fill="#146a22"/><ellipse cx="310.2" cy="571.7" rx="2.4" ry="1.1" transform="rotate(2 310.2 571.7)" fill="#146a22"/><ellipse cx="306.2" cy="578.4" rx="2.4" ry="1.1" transform="rotate(147 306.2 578.4)" fill="#146a22"/><ellipse cx="310.6" cy="585.4" rx="2.4" ry="1.1" transform="rotate(31 310.6 585.4)" fill="#146a22"/><ellipse cx="317.8" cy="587.1" rx="2.4" ry="1.1" transform="rotate(127 317.8 587.1)" fill="#146a22"/><ellipse cx="312.7" cy="573.2" rx="2.4" ry="1.1" transform="rotate(62 312.7 573.2)" fill="#146a22"/><ellipse cx="311.6" cy="563.4" rx="2.4" ry="1.1" transform="rotate(78 311.6 563.4)" fill="#146a22"/><ellipse cx="305.9" cy="570.0" rx="2.4" ry="1.1" transform="rotate(120 305.9 570.0)" fill="#146a22"/><ellipse cx="308" cy="611" rx="24.5" ry="23" fill="#33c83a" stroke="#7fe07f" stroke-width="1.2"/><ellipse cx="333.9" cy="613.2" rx="2.7" ry="1.2" transform="rotate(-26 333.9 613.2)" fill="#146a22"/><ellipse cx="333.5" cy="611.9" rx="2.7" ry="1.2" transform="rotate(19 333.5 611.9)" fill="#146a22"/><ellipse cx="330.5" cy="617.0" rx="2.7" ry="1.2" transform="rotate(23 330.5 617.0)" fill="#146a22"/><ellipse cx="330.7" cy="619.6" rx="2.7" ry="1.2" transform="rotate(-2 330.7 619.6)" fill="#146a22"/><ellipse cx="329.1" cy="621.1" rx="2.7" ry="1.2" transform="rotate(43 329.1 621.1)" fill="#146a22"/><ellipse cx="327.8" cy="626.8" rx="2.7" ry="1.2" transform="rotate(43 327.8 626.8)" fill="#146a22"/><ellipse cx="325.5" cy="625.2" rx="2.7" ry="1.2" transform="rotate(8 325.5 625.2)" fill="#146a22"/><ellipse cx="325.5" cy="626.4" rx="2.7" ry="1.2" transform="rotate(30 325.5 626.4)" fill="#146a22"/><ellipse cx="323.1" cy="630.6" rx="2.7" ry="1.2" transform="rotate(56 323.1 630.6)" fill="#146a22"/><ellipse cx="318.5" cy="630.3" rx="2.7" ry="1.2" transform="rotate(30 318.5 630.3)" fill="#146a22"/><ellipse cx="316.8" cy="630.6" rx="2.7" ry="1.2" transform="rotate(68 316.8 630.6)" fill="#146a22"/><ellipse cx="311.5" cy="634.1" rx="2.7" ry="1.2" transform="rotate(60 311.5 634.1)" fill="#146a22"/><ellipse cx="309.1" cy="634.8" rx="2.7" ry="1.2" transform="rotate(104 309.1 634.8)" fill="#146a22"/><ellipse cx="306.0" cy="634.6" rx="2.7" ry="1.2" transform="rotate(115 306.0 634.6)" fill="#146a22"/><ellipse cx="305.6" cy="635.4" rx="2.7" ry="1.2" transform="rotate(128 305.6 635.4)" fill="#146a22"/><ellipse cx="303.6" cy="634.3" rx="2.7" ry="1.2" transform="rotate(115 303.6 634.3)" fill="#146a22"/><ellipse cx="299.6" cy="632.4" rx="2.7" ry="1.2" transform="rotate(110 299.6 632.4)" fill="#146a22"/><ellipse cx="295.0" cy="630.1" rx="2.7" ry="1.2" transform="rotate(146 295.0 630.1)" fill="#146a22"/><ellipse cx="294.0" cy="631.3" rx="2.7" ry="1.2" transform="rotate(151 294.0 631.3)" fill="#146a22"/><ellipse cx="292.0" cy="628.3" rx="2.7" ry="1.2" transform="rotate(161 292.0 628.3)" fill="#146a22"/><ellipse cx="289.3" cy="625.2" rx="2.7" ry="1.2" transform="rotate(122 289.3 625.2)" fill="#146a22"/><ellipse cx="288.0" cy="625.0" rx="2.7" ry="1.2" transform="rotate(120 288.0 625.0)" fill="#146a22"/><ellipse cx="286.7" cy="619.5" rx="2.7" ry="1.2" transform="rotate(186 286.7 619.5)" fill="#146a22"/><ellipse cx="284.0" cy="620.5" rx="2.7" ry="1.2" transform="rotate(171 284.0 620.5)" fill="#146a22"/><ellipse cx="284.5" cy="616.4" rx="2.7" ry="1.2" transform="rotate(177 284.5 616.4)" fill="#146a22"/><ellipse cx="284.8" cy="613.3" rx="2.7" ry="1.2" transform="rotate(154 284.8 613.3)" fill="#146a22"/><ellipse cx="282.1" cy="610.9" rx="2.7" ry="1.2" transform="rotate(189 282.1 610.9)" fill="#146a22"/><ellipse cx="282.5" cy="610.1" rx="2.7" ry="1.2" transform="rotate(198 282.5 610.1)" fill="#146a22"/><ellipse cx="286.3" cy="604.2" rx="2.7" ry="1.2" transform="rotate(216 286.3 604.2)" fill="#146a22"/><ellipse cx="284.2" cy="604.7" rx="2.7" ry="1.2" transform="rotate(180 284.2 604.7)" fill="#146a22"/><ellipse cx="284.6" cy="601.0" rx="2.7" ry="1.2" transform="rotate(177 284.6 601.0)" fill="#146a22"/><ellipse cx="287.0" cy="597.3" rx="2.7" ry="1.2" transform="rotate(197 287.0 597.3)" fill="#146a22"/><ellipse cx="287.8" cy="596.1" rx="2.7" ry="1.2" transform="rotate(213 287.8 596.1)" fill="#146a22"/><ellipse cx="294.0" cy="594.8" rx="2.7" ry="1.2" transform="rotate(221 294.0 594.8)" fill="#146a22"/><ellipse cx="292.6" cy="592.7" rx="2.7" ry="1.2" transform="rotate(202 292.6 592.7)" fill="#146a22"/><ellipse cx="299.5" cy="591.8" rx="2.7" ry="1.2" transform="rotate(264 299.5 591.8)" fill="#146a22"/><ellipse cx="297.8" cy="591.5" rx="2.7" ry="1.2" transform="rotate(266 297.8 591.5)" fill="#146a22"/><ellipse cx="301.0" cy="590.6" rx="2.7" ry="1.2" transform="rotate(266 301.0 590.6)" fill="#146a22"/><ellipse cx="304.8" cy="590.3" rx="2.7" ry="1.2" transform="rotate(296 304.8 590.3)" fill="#146a22"/><ellipse cx="306.5" cy="590.2" rx="2.7" ry="1.2" transform="rotate(255 306.5 590.2)" fill="#146a22"/><ellipse cx="311.6" cy="587.6" rx="2.7" ry="1.2" transform="rotate(251 311.6 587.6)" fill="#146a22"/><ellipse cx="312.6" cy="590.6" rx="2.7" ry="1.2" transform="rotate(278 312.6 590.6)" fill="#146a22"/><ellipse cx="318.1" cy="589.4" rx="2.7" ry="1.2" transform="rotate(322 318.1 589.4)" fill="#146a22"/><ellipse cx="321.1" cy="590.3" rx="2.7" ry="1.2" transform="rotate(315 321.1 590.3)" fill="#146a22"/><ellipse cx="321.0" cy="593.2" rx="2.7" ry="1.2" transform="rotate(316 321.0 593.2)" fill="#146a22"/><ellipse cx="322.3" cy="594.7" rx="2.7" ry="1.2" transform="rotate(306 322.3 594.7)" fill="#146a22"/><ellipse cx="326.0" cy="598.2" rx="2.7" ry="1.2" transform="rotate(329 326.0 598.2)" fill="#146a22"/><ellipse cx="327.6" cy="597.7" rx="2.7" ry="1.2" transform="rotate(299 327.6 597.7)" fill="#146a22"/><ellipse cx="329.4" cy="602.7" rx="2.7" ry="1.2" transform="rotate(345 329.4 602.7)" fill="#146a22"/><ellipse cx="328.6" cy="603.3" rx="2.7" ry="1.2" transform="rotate(342 328.6 603.3)" fill="#146a22"/><ellipse cx="329.2" cy="604.5" rx="2.7" ry="1.2" transform="rotate(309 329.2 604.5)" fill="#146a22"/><ellipse cx="330.1" cy="607.0" rx="2.7" ry="1.2" transform="rotate(359 330.1 607.0)" fill="#146a22"/><ellipse cx="328.2" cy="607.5" rx="2.4" ry="1.1" transform="rotate(168 328.2 607.5)" fill="#146a22"/><ellipse cx="312.7" cy="617.7" rx="2.4" ry="1.1" transform="rotate(80 312.7 617.7)" fill="#146a22"/><ellipse cx="318.0" cy="601.4" rx="2.4" ry="1.1" transform="rotate(112 318.0 601.4)" fill="#146a22"/><ellipse cx="322.1" cy="618.6" rx="2.4" ry="1.1" transform="rotate(46 322.1 618.6)" fill="#146a22"/><ellipse cx="320.3" cy="606.3" rx="2.4" ry="1.1" transform="rotate(1 320.3 606.3)" fill="#146a22"/><ellipse cx="310.9" cy="600.6" rx="2.4" ry="1.1" transform="rotate(20 310.9 600.6)" fill="#146a22"/><ellipse cx="316.2" cy="613.7" rx="2.4" ry="1.1" transform="rotate(18 316.2 613.7)" fill="#146a22"/><ellipse cx="312.9" cy="604.4" rx="2.4" ry="1.1" transform="rotate(39 312.9 604.4)" fill="#146a22"/><ellipse cx="320.2" cy="609.3" rx="2.4" ry="1.1" transform="rotate(56 320.2 609.3)" fill="#146a22"/><ellipse cx="316.2" cy="612.1" rx="2.4" ry="1.1" transform="rotate(163 316.2 612.1)" fill="#146a22"/><ellipse cx="318.1" cy="623.2" rx="2.4" ry="1.1" transform="rotate(78 318.1 623.2)" fill="#146a22"/><ellipse cx="321.9" cy="608.7" rx="2.4" ry="1.1" transform="rotate(9 321.9 608.7)" fill="#146a22"/><ellipse cx="320.2" cy="606.2" rx="2.4" ry="1.1" transform="rotate(33 320.2 606.2)" fill="#146a22"/><ellipse cx="314.8" cy="595.7" rx="2.4" ry="1.1" transform="rotate(66 314.8 595.7)" fill="#146a22"/>
<ellipse cx="103" cy="743" rx="26" ry="36" fill="#38c83e" stroke="#7fe07f" stroke-width="1.2"/><ellipse cx="128.8" cy="741.1" rx="2.7" ry="1.2" transform="rotate(-12 128.8 741.1)" fill="#146a22"/><ellipse cx="129.0" cy="747.1" rx="2.7" ry="1.2" transform="rotate(-24 129.0 747.1)" fill="#146a22"/><ellipse cx="130.0" cy="746.3" rx="2.7" ry="1.2" transform="rotate(-12 130.0 746.3)" fill="#146a22"/><ellipse cx="130.1" cy="751.6" rx="2.7" ry="1.2" transform="rotate(11 130.1 751.6)" fill="#146a22"/><ellipse cx="126.1" cy="757.9" rx="2.7" ry="1.2" transform="rotate(35 126.1 757.9)" fill="#146a22"/><ellipse cx="127.2" cy="756.9" rx="2.7" ry="1.2" transform="rotate(48 127.2 756.9)" fill="#146a22"/><ellipse cx="125.6" cy="762.6" rx="2.7" ry="1.2" transform="rotate(44 125.6 762.6)" fill="#146a22"/><ellipse cx="125.7" cy="762.7" rx="2.7" ry="1.2" transform="rotate(38 125.7 762.7)" fill="#146a22"/><ellipse cx="121.0" cy="764.0" rx="2.7" ry="1.2" transform="rotate(66 121.0 764.0)" fill="#146a22"/><ellipse cx="121.0" cy="770.1" rx="2.7" ry="1.2" transform="rotate(74 121.0 770.1)" fill="#146a22"/><ellipse cx="118.6" cy="774.3" rx="2.7" ry="1.2" transform="rotate(48 118.6 774.3)" fill="#146a22"/><ellipse cx="115.0" cy="773.9" rx="2.7" ry="1.2" transform="rotate(92 115.0 773.9)" fill="#146a22"/><ellipse cx="112.0" cy="773.6" rx="2.7" ry="1.2" transform="rotate(42 112.0 773.6)" fill="#146a22"/><ellipse cx="114.4" cy="777.9" rx="2.7" ry="1.2" transform="rotate(61 114.4 777.9)" fill="#146a22"/><ellipse cx="109.2" cy="776.2" rx="2.7" ry="1.2" transform="rotate(76 109.2 776.2)" fill="#146a22"/><ellipse cx="108.1" cy="776.8" rx="2.7" ry="1.2" transform="rotate(84 108.1 776.8)" fill="#146a22"/><ellipse cx="105.1" cy="780.8" rx="2.7" ry="1.2" transform="rotate(98 105.1 780.8)" fill="#146a22"/><ellipse cx="100.7" cy="780.5" rx="2.7" ry="1.2" transform="rotate(129 100.7 780.5)" fill="#146a22"/><ellipse cx="100.0" cy="776.1" rx="2.7" ry="1.2" transform="rotate(123 100.0 776.1)" fill="#146a22"/><ellipse cx="95.5" cy="779.5" rx="2.7" ry="1.2" transform="rotate(111 95.5 779.5)" fill="#146a22"/><ellipse cx="95.3" cy="775.0" rx="2.7" ry="1.2" transform="rotate(132 95.3 775.0)" fill="#146a22"/><ellipse cx="93.8" cy="774.7" rx="2.7" ry="1.2" transform="rotate(81 93.8 774.7)" fill="#146a22"/><ellipse cx="88.9" cy="776.1" rx="2.7" ry="1.2" transform="rotate(92 88.9 776.1)" fill="#146a22"/><ellipse cx="88.5" cy="771.5" rx="2.7" ry="1.2" transform="rotate(101 88.5 771.5)" fill="#146a22"/><ellipse cx="87.7" cy="773.5" rx="2.7" ry="1.2" transform="rotate(151 87.7 773.5)" fill="#146a22"/><ellipse cx="87.2" cy="771.8" rx="2.7" ry="1.2" transform="rotate(95 87.2 771.8)" fill="#146a22"/><ellipse cx="83.9" cy="765.1" rx="2.7" ry="1.2" transform="rotate(167 83.9 765.1)" fill="#146a22"/><ellipse cx="81.2" cy="761.6" rx="2.7" ry="1.2" transform="rotate(183 81.2 761.6)" fill="#146a22"/><ellipse cx="83.3" cy="761.4" rx="2.7" ry="1.2" transform="rotate(153 83.3 761.4)" fill="#146a22"/><ellipse cx="82.4" cy="760.7" rx="2.7" ry="1.2" transform="rotate(142 82.4 760.7)" fill="#146a22"/><ellipse cx="80.3" cy="754.4" rx="2.7" ry="1.2" transform="rotate(128 80.3 754.4)" fill="#146a22"/><ellipse cx="78.7" cy="749.9" rx="2.7" ry="1.2" transform="rotate(200 78.7 749.9)" fill="#146a22"/><ellipse cx="78.1" cy="746.7" rx="2.7" ry="1.2" transform="rotate(171 78.1 746.7)" fill="#146a22"/><ellipse cx="76.9" cy="746.2" rx="2.7" ry="1.2" transform="rotate(182 76.9 746.2)" fill="#146a22"/><ellipse cx="76.9" cy="742.6" rx="2.7" ry="1.2" transform="rotate(212 76.9 742.6)" fill="#146a22"/><ellipse cx="77.8" cy="739.7" rx="2.7" ry="1.2" transform="rotate(201 77.8 739.7)" fill="#146a22"/><ellipse cx="78.5" cy="738.5" rx="2.7" ry="1.2" transform="rotate(221 78.5 738.5)" fill="#146a22"/><ellipse cx="78.2" cy="733.1" rx="2.7" ry="1.2" transform="rotate(162 78.2 733.1)" fill="#146a22"/><ellipse cx="78.6" cy="730.6" rx="2.7" ry="1.2" transform="rotate(167 78.6 730.6)" fill="#146a22"/><ellipse cx="79.8" cy="726.1" rx="2.7" ry="1.2" transform="rotate(177 79.8 726.1)" fill="#146a22"/><ellipse cx="81.7" cy="723.7" rx="2.7" ry="1.2" transform="rotate(226 81.7 723.7)" fill="#146a22"/><ellipse cx="81.4" cy="721.7" rx="2.7" ry="1.2" transform="rotate(232 81.4 721.7)" fill="#146a22"/><ellipse cx="84.1" cy="723.3" rx="2.7" ry="1.2" transform="rotate(229 84.1 723.3)" fill="#146a22"/><ellipse cx="88.2" cy="715.9" rx="2.7" ry="1.2" transform="rotate(230 88.2 715.9)" fill="#146a22"/><ellipse cx="88.4" cy="715.2" rx="2.7" ry="1.2" transform="rotate(224 88.4 715.2)" fill="#146a22"/><ellipse cx="89.0" cy="714.2" rx="2.7" ry="1.2" transform="rotate(243 89.0 714.2)" fill="#146a22"/><ellipse cx="90.9" cy="712.6" rx="2.7" ry="1.2" transform="rotate(260 90.9 712.6)" fill="#146a22"/><ellipse cx="91.4" cy="710.9" rx="2.7" ry="1.2" transform="rotate(260 91.4 710.9)" fill="#146a22"/><ellipse cx="95.4" cy="710.9" rx="2.7" ry="1.2" transform="rotate(273 95.4 710.9)" fill="#146a22"/><ellipse cx="97.3" cy="710.4" rx="2.7" ry="1.2" transform="rotate(252 97.3 710.4)" fill="#146a22"/><ellipse cx="101.7" cy="710.0" rx="2.7" ry="1.2" transform="rotate(255 101.7 710.0)" fill="#146a22"/><ellipse cx="102.1" cy="705.5" rx="2.7" ry="1.2" transform="rotate(264 102.1 705.5)" fill="#146a22"/><ellipse cx="106.9" cy="710.0" rx="2.7" ry="1.2" transform="rotate(268 106.9 710.0)" fill="#146a22"/><ellipse cx="108.8" cy="706.1" rx="2.7" ry="1.2" transform="rotate(279 108.8 706.1)" fill="#146a22"/><ellipse cx="108.3" cy="710.7" rx="2.7" ry="1.2" transform="rotate(285 108.3 710.7)" fill="#146a22"/><ellipse cx="111.2" cy="707.4" rx="2.7" ry="1.2" transform="rotate(311 111.2 707.4)" fill="#146a22"/><ellipse cx="112.6" cy="711.6" rx="2.7" ry="1.2" transform="rotate(314 112.6 711.6)" fill="#146a22"/><ellipse cx="117.8" cy="711.8" rx="2.7" ry="1.2" transform="rotate(293 117.8 711.8)" fill="#146a22"/><ellipse cx="116.4" cy="714.3" rx="2.7" ry="1.2" transform="rotate(323 116.4 714.3)" fill="#146a22"/><ellipse cx="118.9" cy="716.5" rx="2.7" ry="1.2" transform="rotate(304 118.9 716.5)" fill="#146a22"/><ellipse cx="121.4" cy="719.1" rx="2.7" ry="1.2" transform="rotate(346 121.4 719.1)" fill="#146a22"/><ellipse cx="120.7" cy="721.7" rx="2.7" ry="1.2" transform="rotate(350 120.7 721.7)" fill="#146a22"/><ellipse cx="127.6" cy="725.3" rx="2.7" ry="1.2" transform="rotate(328 127.6 725.3)" fill="#146a22"/><ellipse cx="128.6" cy="729.2" rx="2.7" ry="1.2" transform="rotate(319 128.6 729.2)" fill="#146a22"/><ellipse cx="128.7" cy="731.2" rx="2.7" ry="1.2" transform="rotate(353 128.7 731.2)" fill="#146a22"/><ellipse cx="126.8" cy="733.8" rx="2.7" ry="1.2" transform="rotate(333 126.8 733.8)" fill="#146a22"/><ellipse cx="126.0" cy="735.2" rx="2.7" ry="1.2" transform="rotate(352 126.0 735.2)" fill="#146a22"/><ellipse cx="129.7" cy="738.0" rx="2.7" ry="1.2" transform="rotate(320 129.7 738.0)" fill="#146a22"/><ellipse cx="115.2" cy="759.3" rx="2.4" ry="1.1" transform="rotate(166 115.2 759.3)" fill="#146a22"/><ellipse cx="117.9" cy="762.3" rx="2.4" ry="1.1" transform="rotate(104 117.9 762.3)" fill="#146a22"/><ellipse cx="106.6" cy="718.9" rx="2.4" ry="1.1" transform="rotate(31 106.6 718.9)" fill="#146a22"/><ellipse cx="115.8" cy="728.7" rx="2.4" ry="1.1" transform="rotate(94 115.8 728.7)" fill="#146a22"/><ellipse cx="122.3" cy="731.5" rx="2.4" ry="1.1" transform="rotate(110 122.3 731.5)" fill="#146a22"/><ellipse cx="110.9" cy="735.8" rx="2.4" ry="1.1" transform="rotate(155 110.9 735.8)" fill="#146a22"/><ellipse cx="120.8" cy="736.6" rx="2.4" ry="1.1" transform="rotate(63 120.8 736.6)" fill="#146a22"/><ellipse cx="111.6" cy="727.2" rx="2.4" ry="1.1" transform="rotate(147 111.6 727.2)" fill="#146a22"/><ellipse cx="113.2" cy="721.5" rx="2.4" ry="1.1" transform="rotate(166 113.2 721.5)" fill="#146a22"/><ellipse cx="119.5" cy="756.5" rx="2.4" ry="1.1" transform="rotate(1 119.5 756.5)" fill="#146a22"/><ellipse cx="122.7" cy="746.0" rx="2.4" ry="1.1" transform="rotate(9 122.7 746.0)" fill="#146a22"/><ellipse cx="110.1" cy="733.8" rx="2.4" ry="1.1" transform="rotate(95 110.1 733.8)" fill="#146a22"/><ellipse cx="115.2" cy="736.1" rx="2.4" ry="1.1" transform="rotate(140 115.2 736.1)" fill="#146a22"/><ellipse cx="104.1" cy="734.6" rx="2.4" ry="1.1" transform="rotate(23 104.1 734.6)" fill="#146a22"/><ellipse cx="105.9" cy="735.2" rx="2.4" ry="1.1" transform="rotate(175 105.9 735.2)" fill="#146a22"/><ellipse cx="108.3" cy="748.6" rx="2.4" ry="1.1" transform="rotate(90 108.3 748.6)" fill="#146a22"/><ellipse cx="111.4" cy="734.3" rx="2.4" ry="1.1" transform="rotate(63 111.4 734.3)" fill="#146a22"/><ellipse cx="117.9" cy="746.2" rx="2.4" ry="1.1" transform="rotate(65 117.9 746.2)" fill="#146a22"/><ellipse cx="109.3" cy="731.0" rx="2.4" ry="1.1" transform="rotate(22 109.3 731.0)" fill="#146a22"/><ellipse cx="120.3" cy="741.4" rx="2.4" ry="1.1" transform="rotate(68 120.3 741.4)" fill="#146a22"/><ellipse cx="105.9" cy="732.4" rx="2.4" ry="1.1" transform="rotate(67 105.9 732.4)" fill="#146a22"/><ellipse cx="121.4" cy="744.3" rx="2.4" ry="1.1" transform="rotate(68 121.4 744.3)" fill="#146a22"/><ellipse cx="116.6" cy="753.9" rx="2.4" ry="1.1" transform="rotate(78 116.6 753.9)" fill="#146a22"/><ellipse cx="162" cy="782" rx="34" ry="18" fill="#38c83e" stroke="#7fe07f" stroke-width="1.2"/><ellipse cx="193.2" cy="781.1" rx="2.7" ry="1.2" transform="rotate(-10 193.2 781.1)" fill="#146a22"/><ellipse cx="193.0" cy="782.7" rx="2.7" ry="1.2" transform="rotate(-5 193.0 782.7)" fill="#146a22"/><ellipse cx="195.6" cy="787.6" rx="2.7" ry="1.2" transform="rotate(36 195.6 787.6)" fill="#146a22"/><ellipse cx="194.4" cy="786.8" rx="2.7" ry="1.2" transform="rotate(0 194.4 786.8)" fill="#146a22"/><ellipse cx="191.0" cy="788.1" rx="2.7" ry="1.2" transform="rotate(2 191.0 788.1)" fill="#146a22"/><ellipse cx="190.5" cy="793.1" rx="2.7" ry="1.2" transform="rotate(58 190.5 793.1)" fill="#146a22"/><ellipse cx="185.8" cy="793.1" rx="2.7" ry="1.2" transform="rotate(28 185.8 793.1)" fill="#146a22"/><ellipse cx="186.3" cy="795.2" rx="2.7" ry="1.2" transform="rotate(70 186.3 795.2)" fill="#146a22"/><ellipse cx="179.9" cy="795.5" rx="2.7" ry="1.2" transform="rotate(62 179.9 795.5)" fill="#146a22"/><ellipse cx="179.4" cy="797.2" rx="2.7" ry="1.2" transform="rotate(36 179.4 797.2)" fill="#146a22"/><ellipse cx="176.2" cy="796.7" rx="2.7" ry="1.2" transform="rotate(93 176.2 796.7)" fill="#146a22"/><ellipse cx="171.5" cy="799.2" rx="2.7" ry="1.2" transform="rotate(60 171.5 799.2)" fill="#146a22"/><ellipse cx="167.6" cy="799.7" rx="2.7" ry="1.2" transform="rotate(107 167.6 799.7)" fill="#146a22"/><ellipse cx="164.3" cy="799.7" rx="2.7" ry="1.2" transform="rotate(80 164.3 799.7)" fill="#146a22"/><ellipse cx="162.3" cy="799.5" rx="2.7" ry="1.2" transform="rotate(66 162.3 799.5)" fill="#146a22"/><ellipse cx="160.5" cy="800.7" rx="2.7" ry="1.2" transform="rotate(61 160.5 800.7)" fill="#146a22"/><ellipse cx="158.5" cy="800.0" rx="2.7" ry="1.2" transform="rotate(80 158.5 800.0)" fill="#146a22"/><ellipse cx="151.8" cy="798.8" rx="2.7" ry="1.2" transform="rotate(97 151.8 798.8)" fill="#146a22"/><ellipse cx="146.4" cy="796.6" rx="2.7" ry="1.2" transform="rotate(113 146.4 796.6)" fill="#146a22"/><ellipse cx="146.7" cy="798.2" rx="2.7" ry="1.2" transform="rotate(101 146.7 798.2)" fill="#146a22"/><ellipse cx="142.1" cy="797.2" rx="2.7" ry="1.2" transform="rotate(112 142.1 797.2)" fill="#146a22"/><ellipse cx="137.4" cy="795.8" rx="2.7" ry="1.2" transform="rotate(105 137.4 795.8)" fill="#146a22"/><ellipse cx="139.9" cy="794.2" rx="2.7" ry="1.2" transform="rotate(152 139.9 794.2)" fill="#146a22"/><ellipse cx="135.3" cy="791.3" rx="2.7" ry="1.2" transform="rotate(135 135.3 791.3)" fill="#146a22"/><ellipse cx="133.8" cy="791.4" rx="2.7" ry="1.2" transform="rotate(116 133.8 791.4)" fill="#146a22"/><ellipse cx="128.3" cy="788.4" rx="2.7" ry="1.2" transform="rotate(192 128.3 788.4)" fill="#146a22"/><ellipse cx="126.8" cy="786.3" rx="2.7" ry="1.2" transform="rotate(133 126.8 786.3)" fill="#146a22"/><ellipse cx="126.6" cy="785.9" rx="2.7" ry="1.2" transform="rotate(187 126.6 785.9)" fill="#146a22"/><ellipse cx="126.0" cy="783.4" rx="2.7" ry="1.2" transform="rotate(184 126.0 783.4)" fill="#146a22"/><ellipse cx="129.9" cy="780.0" rx="2.7" ry="1.2" transform="rotate(165 129.9 780.0)" fill="#146a22"/><ellipse cx="131.0" cy="779.4" rx="2.7" ry="1.2" transform="rotate(181 131.0 779.4)" fill="#146a22"/><ellipse cx="131.7" cy="775.8" rx="2.7" ry="1.2" transform="rotate(167 131.7 775.8)" fill="#146a22"/><ellipse cx="131.8" cy="777.1" rx="2.7" ry="1.2" transform="rotate(217 131.8 777.1)" fill="#146a22"/><ellipse cx="133.2" cy="774.3" rx="2.7" ry="1.2" transform="rotate(179 133.2 774.3)" fill="#146a22"/><ellipse cx="136.8" cy="770.7" rx="2.7" ry="1.2" transform="rotate(200 136.8 770.7)" fill="#146a22"/><ellipse cx="137.0" cy="772.4" rx="2.7" ry="1.2" transform="rotate(193 137.0 772.4)" fill="#146a22"/><ellipse cx="141.5" cy="769.4" rx="2.7" ry="1.2" transform="rotate(197 141.5 769.4)" fill="#146a22"/><ellipse cx="143.0" cy="768.4" rx="2.7" ry="1.2" transform="rotate(268 143.0 768.4)" fill="#146a22"/><ellipse cx="143.0" cy="767.3" rx="2.7" ry="1.2" transform="rotate(255 143.0 767.3)" fill="#146a22"/><ellipse cx="146.8" cy="764.5" rx="2.7" ry="1.2" transform="rotate(244 146.8 764.5)" fill="#146a22"/><ellipse cx="150.5" cy="765.6" rx="2.7" ry="1.2" transform="rotate(217 150.5 765.6)" fill="#146a22"/><ellipse cx="155.4" cy="765.4" rx="2.7" ry="1.2" transform="rotate(285 155.4 765.4)" fill="#146a22"/><ellipse cx="161.4" cy="764.3" rx="2.7" ry="1.2" transform="rotate(236 161.4 764.3)" fill="#146a22"/><ellipse cx="161.3" cy="765.1" rx="2.7" ry="1.2" transform="rotate(248 161.3 765.1)" fill="#146a22"/><ellipse cx="165.0" cy="763.2" rx="2.7" ry="1.2" transform="rotate(250 165.0 763.2)" fill="#146a22"/><ellipse cx="167.7" cy="763.2" rx="2.7" ry="1.2" transform="rotate(284 167.7 763.2)" fill="#146a22"/><ellipse cx="176.5" cy="766.4" rx="2.7" ry="1.2" transform="rotate(324 176.5 766.4)" fill="#146a22"/><ellipse cx="178.8" cy="765.7" rx="2.7" ry="1.2" transform="rotate(316 178.8 765.7)" fill="#146a22"/><ellipse cx="179.0" cy="768.2" rx="2.7" ry="1.2" transform="rotate(283 179.0 768.2)" fill="#146a22"/><ellipse cx="186.8" cy="768.3" rx="2.7" ry="1.2" transform="rotate(343 186.8 768.3)" fill="#146a22"/><ellipse cx="185.9" cy="768.9" rx="2.7" ry="1.2" transform="rotate(335 185.9 768.9)" fill="#146a22"/><ellipse cx="190.5" cy="770.9" rx="2.7" ry="1.2" transform="rotate(326 190.5 770.9)" fill="#146a22"/><ellipse cx="192.0" cy="772.9" rx="2.7" ry="1.2" transform="rotate(314 192.0 772.9)" fill="#146a22"/><ellipse cx="195.9" cy="775.3" rx="2.7" ry="1.2" transform="rotate(310 195.9 775.3)" fill="#146a22"/><ellipse cx="197.2" cy="777.5" rx="2.7" ry="1.2" transform="rotate(358 197.2 777.5)" fill="#146a22"/><ellipse cx="196.1" cy="776.2" rx="2.7" ry="1.2" transform="rotate(316 196.1 776.2)" fill="#146a22"/><ellipse cx="196.5" cy="781.7" rx="2.7" ry="1.2" transform="rotate(328 196.5 781.7)" fill="#146a22"/><ellipse cx="173.3" cy="772.7" rx="2.4" ry="1.1" transform="rotate(102 173.3 772.7)" fill="#146a22"/><ellipse cx="187.2" cy="787.5" rx="2.4" ry="1.1" transform="rotate(39 187.2 787.5)" fill="#146a22"/><ellipse cx="166.8" cy="767.8" rx="2.4" ry="1.1" transform="rotate(2 166.8 767.8)" fill="#146a22"/><ellipse cx="169.1" cy="785.2" rx="2.4" ry="1.1" transform="rotate(146 169.1 785.2)" fill="#146a22"/><ellipse cx="185.3" cy="788.4" rx="2.4" ry="1.1" transform="rotate(99 185.3 788.4)" fill="#146a22"/><ellipse cx="170.5" cy="785.9" rx="2.4" ry="1.1" transform="rotate(121 170.5 785.9)" fill="#146a22"/><ellipse cx="183.8" cy="774.0" rx="2.4" ry="1.1" transform="rotate(139 183.8 774.0)" fill="#146a22"/><ellipse cx="179.8" cy="779.4" rx="2.4" ry="1.1" transform="rotate(5 179.8 779.4)" fill="#146a22"/><ellipse cx="167.0" cy="771.8" rx="2.4" ry="1.1" transform="rotate(88 167.0 771.8)" fill="#146a22"/><ellipse cx="177.8" cy="788.7" rx="2.4" ry="1.1" transform="rotate(25 177.8 788.7)" fill="#146a22"/><ellipse cx="182.5" cy="775.6" rx="2.4" ry="1.1" transform="rotate(94 182.5 775.6)" fill="#146a22"/><ellipse cx="166.9" cy="768.9" rx="2.4" ry="1.1" transform="rotate(149 166.9 768.9)" fill="#146a22"/><ellipse cx="168.9" cy="772.7" rx="2.4" ry="1.1" transform="rotate(69 168.9 772.7)" fill="#146a22"/><ellipse cx="174.1" cy="785.4" rx="2.4" ry="1.1" transform="rotate(42 174.1 785.4)" fill="#146a22"/><ellipse cx="189.4" cy="778.6" rx="2.4" ry="1.1" transform="rotate(17 189.4 778.6)" fill="#146a22"/>
<g fill="#2b6b2d"><circle cx="521" cy="533" r="13.5"/><circle cx="545" cy="531" r="13.5"/><circle cx="533" cy="528" r="9"/><circle cx="533" cy="543" r="14"/><circle cx="528" cy="556" r="10"/><circle cx="538" cy="552" r="9"/></g><g fill="#1c4d1f"><circle cx="528" cy="546" r="8"/><circle cx="540" cy="538" r="6"/><circle cx="522" cy="532" r="6"/><circle cx="531" cy="557" r="5"/></g><g fill="#3b8a3d"><circle cx="517" cy="528" r="4"/><circle cx="548" cy="526" r="4"/></g>
<use href="#bld" transform="translate(339.6,443.0) scale(0.693)"/>
<use href="#bld" transform="translate(596.7,444.0) scale(0.690)"/>
<use href="#bld" transform="translate(771.0,492.7) scale(0.925)"/>
<use href="#bld" transform="translate(121.0,622.5) scale(0.706)"/>
<use href="#bld" transform="translate(274.0,685.7) scale(0.765)"/>

<g id="fountain">
 <!-- base quatrefoil -->
 <path d="M491,702 Q493,688 518,685 Q536,674 575,673 Q614,674 633,686 Q657,690 659,703 Q657,720 630,724 Q612,733 575,733 Q538,733 520,723 Q492,719 491,702 Z" fill="#8f8a74" stroke="#5f5b4a" stroke-width="1.2"/>
 <path d="M492,706 Q496,722 520,726 Q538,736 575,736 Q612,736 630,727 Q656,723 658,707 Q654,718 630,721 Q612,730 575,730 Q538,730 520,720 Q497,717 492,706 Z" fill="#b9b199"/>
 <path d="M499,702 Q502,692 523,690 Q542,680 575,680 Q609,680 628,690 Q649,694 651,704 Q649,714 627,716 Q608,725 575,725 Q541,725 523,715 Q500,712 499,702 Z" fill="#343a39"/>
 <!-- lower bowl (glass drum) -->
 <path d="M518,680 Q518,666 575,665 Q633,666 633,680 L631,700 Q620,712 575,713 Q530,712 520,700 Z" fill="#7d888c" opacity="0.92"/>
 <ellipse cx="575.5" cy="679" rx="57.5" ry="13.5" fill="#98a3a6" stroke="#6a7477" stroke-width="0.9"/>
 <ellipse cx="575.5" cy="681" rx="46" ry="9.5" fill="#596265"/>
 <path d="M548,686 L575,676 L604,686 L575,692 Z" fill="#2e3434"/>
 <!-- centre column -->
 <path d="M564,650 H586 V704 H564 Z" fill="#6d7778"/>
 <path d="M566,662 V690 M584,662 V690" stroke="#2f3535" stroke-width="2.2"/>
 <!-- mid bowl -->
 <path d="M540,663 Q540,654 576,653 Q612,654 612,663 Q610,672 576,674 Q542,672 540,663 Z" fill="#8a9598" stroke="#667073" stroke-width="0.9"/>
 <ellipse cx="576" cy="662" rx="34" ry="7.5" fill="#a2acae"/>
 <ellipse cx="576" cy="663.5" rx="25" ry="4.6" fill="#616a6c"/>
 <path d="M568,646 V664 M584,646 V664 M576,646 V666" stroke="#4a5254" stroke-width="2"/>
 <!-- top bowl -->
 <path d="M553,641 Q553,635 576,634.5 Q599,635 599,641 Q597,647 576,648.5 Q555,647 553,641 Z" fill="#8f999b" stroke="#6a7476" stroke-width="0.9"/>
 <ellipse cx="576" cy="640" rx="21.5" ry="4.8" fill="#aab3b5"/>
 <!-- spire -->
 <path d="M572.5,641 L573.5,624 L576.5,609 L579.5,624 L580.5,641 Z" fill="#b39a5c" stroke="#7d6a3a" stroke-width="0.6"/>
 <path d="M574,640 V628 M579,640 V628" stroke="#5a4a28" stroke-width="1"/>
</g>
<use href="#bld" transform="translate(518.0,721.0) scale(1.000)"/>

<path d="M471,389 L140,611 C100,640 60,680 60,717 C60,760 95,802 126,819 L748.5,1002.5" fill="none" stroke="#111" stroke-width="2.6" stroke-linecap="round"/>

<use href="#pine" transform="translate(676.9,672.9) scale(0.970)"/>
<use href="#pine" transform="translate(708.7,680.9) scale(0.970)"/>
<use href="#pine" transform="translate(741.5,696.8) scale(0.970)"/>
<use href="#pine" transform="translate(741.5,761.5) scale(0.980)"/>
<use href="#pine" transform="translate(774.4,769.4) scale(0.980)"/>
<use href="#pine" transform="translate(807.2,778.4) scale(0.980)"/>
<use href="#cpbody" transform="translate(461.4,670.0) scale(0.774,0.897)" opacity="0.45"/><use href="#cpcaps" transform="translate(461.4,670.0) scale(0.774,0.897)" opacity="0.85"/>
<use href="#cpbody" transform="translate(362.5,545.0) scale(0.882,0.862)"/><use href="#cpcaps" transform="translate(362.5,545.0) scale(0.882,0.862)"/>
<use href="#cpbody" transform="translate(639.0,576.0) scale(0.876,0.897)"/><use href="#cpcaps" transform="translate(639.0,576.0) scale(0.876,0.897)"/>
<use href="#cpbody" transform="translate(870.0,677.5) scale(0.816,0.879)"/><use href="#cpcaps" transform="translate(870.0,677.5) scale(0.816,0.879)"/>
<use href="#cpbody" transform="translate(204.0,751.0) scale(0.763,0.776)"/><use href="#cpcaps" transform="translate(204.0,751.0) scale(0.763,0.776)"/>
<use href="#cpbody" transform="translate(333.0,819.0) scale(0.811,0.845)"/><use href="#cpcaps" transform="translate(333.0,819.0) scale(0.811,0.845)"/>
<use href="#cpbody" transform="translate(632.5,904.5) scale(1.000,1.000)"/><use href="#cpcaps" transform="translate(632.5,904.5) scale(1.000,1.000)"/>
<text x="333" y="596" font-size="19" class="pl">巡更点</text>
<text x="611" y="628" font-size="19" class="pl">巡更点</text>
<text x="841" y="728" font-size="18.5" class="pl">巡更点</text>
<text x="185" y="797" font-size="14.5" class="pl">巡更点</text>
<text x="310" y="862" font-size="15.5" class="pl">巡更点</text>
<text x="440" y="715.5" font-size="15.5" class="pl">巡更点</text>
<text x="602" y="959" font-size="20" class="pl" style="fill:#ae3440">巡更点</text>
<use href="#guard" transform="translate(492.3,560.5) scale(0.620)"/>
<use href="#dev" transform="translate(411.6,584.9) rotate(-60.2) scale(0.416)"/>
<use href="#ghand" transform="translate(496.6,615.7) scale(0.620)"/>
<use href="#guard" transform="translate(764.3,615.9) scale(0.612)"/>
<use href="#dev" transform="translate(682.7,638.9) rotate(-60.3) scale(0.421)"/>
<use href="#ghand" transform="translate(768.6,670.4) scale(0.612)"/>
<use href="#guard" transform="translate(1033.2,668.5) scale(0.780)"/>
<use href="#dev" transform="translate(932.2,697.5) rotate(-60.0) scale(0.517)"/>
<use href="#ghand" transform="translate(1038.7,737.9) scale(0.780)"/>
<use href="#guard" transform="translate(451.1,819.9) scale(0.616)"/>
<use href="#dev" transform="translate(368.8,843.2) rotate(-60.3) scale(0.413)"/>
<use href="#ghand" transform="translate(455.4,874.7) scale(0.616)"/>
<use href="#guard" transform="translate(860.8,896.2) scale(1.000)"/>
<use href="#dev" transform="translate(705.3,918.5) rotate(-59.2) scale(0.785)"/>
<use href="#ghand" transform="translate(867.8,985.2) scale(1.000)"/>
<use href="#villa" transform="translate(522.8,233.0) scale(0.12925,0.12432)"/>
<use href="#villa" transform="translate(731.0,281.5) scale(0.12309,0.12309)"/>
<use href="#villa" transform="translate(940.0,330.0) scale(0.12309,0.12309)"/>
<use href="#villa" transform="translate(1152.1,378.5) scale(0.13762,0.12186)"/>
<use href="#dev" transform="translate(524.0,218.0) rotate(0.0) scale(0.756)"/>
<use href="#dev" transform="translate(718.5,253.0) rotate(0.0) scale(0.750)"/>
<use href="#dev" transform="translate(919.5,296.0) rotate(0.0) scale(0.930)"/>
<use href="#dev" transform="translate(1137.5,360.0) rotate(0.0) scale(1.000)"/>
<text x="540" y="396" font-size="26" class="rl">巡更线路<tspan font-family="'Liberation Serif',serif" dx="-1">A</tspan></text>
<text x="741" y="443" font-size="26" class="rl">巡更线路<tspan font-family="'Liberation Serif',serif" dx="-1">B</tspan></text>
<text x="949" y="493" font-size="26.5" class="rl">巡更线路<tspan font-family="'Liberation Serif',serif" dx="-1">C</tspan></text>
<text x="1181" y="543" font-size="26.2" class="rl">巡更线路<tspan font-family="'Liberation Serif',serif" dx="-1">D</tspan></text>

<g id="pc">
 <linearGradient id="twf" x1="0" x2="1"><stop offset="0" stop-color="#d9d4b4"/><stop offset="1" stop-color="#ece8d0"/></linearGradient>
 <linearGradient id="tws" x1="0" x2="1"><stop offset="0" stop-color="#e9e5cf"/><stop offset="1" stop-color="#c9c5ad"/></linearGradient>
 <!-- tower -->
 <polygon points="1071,62 1127,31 1163,50 1163,139 1108,159 1071,140" fill="#e6e2cb" stroke="#4f4d40" stroke-width="1.3"/>
 <polygon points="1071,62 1127,31 1163,50 1108,82" fill="#f2efe0"/>
 <polygon points="1071,62 1108,82 1108,159 1071,140" fill="url(#twf)" stroke="#5f5d4e" stroke-width="0.9"/>
 <polygon points="1108,82 1163,50 1163,139 1108,159" fill="url(#tws)"/>
 <path d="M1076,76 L1100,90 M1076,83 L1100,97 M1076,90 L1100,104" stroke="#2b2b26" stroke-width="2.4"/>
 <path d="M1075,127 L1100,140 M1075,132 L1100,145 M1075,137 L1100,150" stroke="#6d6b58" stroke-width="1.2"/>
 <ellipse cx="1087" cy="113" rx="3" ry="3.6" fill="#f4f2e6" stroke="#6d6b58" stroke-width="1"/>
 <!-- monitor -->
 <polygon points="1162,152 1206,178 1232,164 1232,169 1206,183 1162,157" fill="#ececec" stroke="#6f6f6f" stroke-width="0.9"/>
 <polygon points="1162,152 1190,138 1232,164 1206,178" fill="#fbfbfb" stroke="#6f6f6f" stroke-width="0.9"/>
 <path d="M1150,84 Q1150,76 1157,78 L1212,103 Q1218,106 1218,113 L1218,160 Q1218,167 1211,165 L1156,141 Q1150,138 1150,131 Z" fill="#d5d8db" stroke="#2f3133" stroke-width="1.4"/>
 <path d="M1155,88 L1209,112 L1209,158 L1155,134 Z" fill="#aeb6c2" stroke="#6d737c" stroke-width="0.8"/>
 <path d="M1158,93 L1206,114.5 L1206,153 L1158,131.5 Z" fill="#e9eef6"/>
 <!-- operator -->
 <path d="M1106,194 Q1106,166 1120,160 L1140,158 Q1158,164 1158,190 Q1132,200 1106,194 Z" fill="#e9ecee"/>
 <path d="M1140,158 Q1158,164 1158,190 Q1150,193 1144,194 Z" fill="#d3d7da"/>
 <path d="M1121,160 L1124,158 L1121,186 L1116,186 Z" fill="#4a5360"/>
 <path d="M1114,150 L1134,150 L1136,160 L1120,161 Z" fill="#e8c3a4"/>
 <path d="M1108,128 Q1108,112 1126,111 Q1146,112 1147,130 Q1146,148 1134,155 Q1122,158 1115,150 Q1108,142 1108,128 Z" fill="#f0c9a8"/>
 <path d="M1136,128 Q1146,128 1147,134 Q1146,148 1136,154 Z" fill="#d9a986"/>
 <path d="M1107,128 Q1106,110 1126,110 Q1147,110 1148,130 L1142,131 Q1140,122 1132,120 L1114,122 Q1108,124 1107,128 Z" fill="#4b3a2c"/>
 <path d="M1108,131 L1140,129 L1141,133 Q1138,141 1128,141 Q1123,141 1121,135 Q1118,141 1112,140 Q1108,138 1108,131 Z" fill="#0e0e10"/>
 <!-- cable -->
 <g fill="none" stroke="#1b1b1d" stroke-linecap="round">
  <path d="M1115,186 L1128,198" stroke-width="6" stroke="#3a3c40"/>
  <path d="M1128,198 Q1140,204 1146,208" stroke-width="2.4"/>
  <ellipse cx="1137" cy="229" rx="29" ry="19" stroke-width="3.3" transform="rotate(-14 1137 229)"/>
  <ellipse cx="1136" cy="231" rx="25" ry="15" stroke-width="3" transform="rotate(-10 1136 231)"/>
  <ellipse cx="1139" cy="228" rx="21" ry="12" stroke-width="2.6" transform="rotate(-18 1139 228)"/>
  <path d="M1120,246 Q1108,250 1098,249" stroke-width="2.4"/>
 </g>
 <path d="M1082,243 L1094,241 L1097,254 L1085,257 Z" fill="#2a2b2e"/>
 <path d="M1084,246 L1090,245 L1092,253 L1086,254 Z" fill="#9a9ca0"/>
</g>
</svg>
</body></html>
